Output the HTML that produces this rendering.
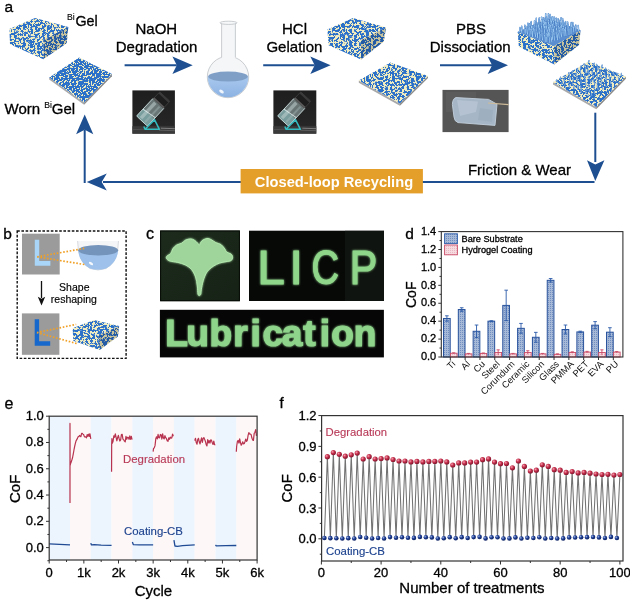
<!DOCTYPE html>
<html><head><meta charset="utf-8"><style>
html,body{margin:0;padding:0;background:#fff;}
svg{display:block;}
</style></head><body>
<svg width="630" height="604" viewBox="0 0 630 604" font-family='"Liberation Sans", Arial, sans-serif'>
<rect width="630" height="604" fill="#fff"/>

<defs>
 <filter id="gelA" x="0" y="0" width="1" height="1" color-interpolation-filters="sRGB">
  <feTurbulence type="fractalNoise" baseFrequency="0.42 0.5" numOctaves="2" seed="4" result="n"/>
  <feColorMatrix in="n" type="matrix" values="1 0 0 0 0  1 0 0 0 0  1 0 0 0 0  0 0 0 0 1"/>
  <feComponentTransfer>
   <feFuncR type="linear" slope="30" intercept="-14.910"/>
   <feFuncG type="linear" slope="30" intercept="-14.910"/>
   <feFuncB type="linear" slope="30" intercept="-14.910"/>
  </feComponentTransfer>
  <feComponentTransfer>
   <feFuncR type="linear" slope="0.78" intercept="0.17"/>
   <feFuncG type="linear" slope="0.49" intercept="0.44"/>
   <feFuncB type="linear" slope="-0.03" intercept="0.79"/>
  </feComponentTransfer>
  <feComposite in2="SourceGraphic" operator="in"/>
 </filter>
 <filter id="gelW" x="0" y="0" width="1" height="1" color-interpolation-filters="sRGB">
  <feTurbulence type="fractalNoise" baseFrequency="0.6" numOctaves="2" seed="9" result="n"/>
  <feColorMatrix in="n" type="matrix" values="1 0 0 0 0  1 0 0 0 0  1 0 0 0 0  0 0 0 0 1"/>
  <feComponentTransfer>
   <feFuncR type="linear" slope="30" intercept="-16.650"/>
   <feFuncG type="linear" slope="30" intercept="-16.650"/>
   <feFuncB type="linear" slope="30" intercept="-16.650"/>
  </feComponentTransfer>
  <feComponentTransfer>
   <feFuncR type="linear" slope="0.78" intercept="0.17"/>
   <feFuncG type="linear" slope="0.49" intercept="0.44"/>
   <feFuncB type="linear" slope="-0.03" intercept="0.79"/>
  </feComponentTransfer>
  <feComposite in2="SourceGraphic" operator="in"/>
 </filter>
 <filter id="glow" x="-20%" y="-20%" width="140%" height="140%">
  <feGaussianBlur stdDeviation="1.2" result="b"/>
  <feMerge><feMergeNode in="b"/><feMergeNode in="SourceGraphic"/></feMerge>
 </filter>
 <filter id="soft" x="-20%" y="-20%" width="140%" height="140%"><feGaussianBlur stdDeviation="0.6"/></filter>
 <pattern id="hatchB" width="2" height="2" patternUnits="userSpaceOnUse">
  <rect width="2" height="2" fill="#a6b9d6"/><rect width="1" height="1" fill="#728dbf"/>
 </pattern>
 <pattern id="hatchP" width="2" height="2" patternUnits="userSpaceOnUse">
  <rect width="2" height="2" fill="#f6dbe1"/><rect width="1" height="1" fill="#e9b7c3"/>
 </pattern>
 <radialGradient id="redDot" cx="0.35" cy="0.35" r="0.7">
  <stop offset="0" stop-color="#f4a0b0"/><stop offset="0.45" stop-color="#c8324f"/><stop offset="1" stop-color="#7a1028"/>
 </radialGradient>
 <radialGradient id="blueDot" cx="0.35" cy="0.35" r="0.7">
  <stop offset="0" stop-color="#9fb4e4"/><stop offset="0.45" stop-color="#1f3f96"/><stop offset="1" stop-color="#0c1f5a"/>
 </radialGradient>
 <linearGradient id="zig" x1="0" y1="0" x2="0" y2="1">
  <stop offset="0" stop-color="#555"/><stop offset="0.5" stop-color="#9a9a9a"/><stop offset="1" stop-color="#555"/>
 </linearGradient>
 <linearGradient id="liq" x1="0" y1="0" x2="0" y2="1">
  <stop offset="0" stop-color="#a9c8ee"/><stop offset="1" stop-color="#86aee0"/>
 </linearGradient>
 <linearGradient id="photoDark" x1="0" y1="0" x2="0" y2="1">
  <stop offset="0" stop-color="#1e1e1e"/><stop offset="0.8" stop-color="#262626"/><stop offset="1" stop-color="#4a4a4a"/>
 </linearGradient>
 <linearGradient id="leafBg" x1="0" y1="0" x2="1" y2="1">
  <stop offset="0" stop-color="#1d2b1d"/><stop offset="1" stop-color="#152215"/>
 </linearGradient>
</defs>
<g id="panelA" font-family='"Liberation Sans", Arial, sans-serif'><text x="4.5" y="11.9" font-size="15.5" text-anchor="start" font-weight="normal" fill="#000" stroke="#000" stroke-width="0.3" >a</text><polygon points="9.4,29.0 43.5,39.5 43.3,59.2 10.0,44.2" fill="#000" filter="url(#gelA)"/><polygon points="43.5,39.5 68.3,27.0 66.7,43.3 43.3,59.2" fill="#000" filter="url(#gelA)"/><polygon points="43.5,39.5 68.3,27.0 66.7,43.3 43.3,59.2" fill="#000" opacity="0.18"/><polygon points="9.4,29.0 35.0,18.0 68.3,27.0 43.5,39.5" fill="#000" filter="url(#gelA)"/><polygon points="49.2,77.4 84.1,102.5 84.1,104.7 49.2,79.6" fill="#a9a9a9"/><polygon points="84.1,102.5 111.9,74.0 111.9,76.2 84.1,104.7" fill="#8a8a8a"/><polygon points="49.2,77.4 79.1,57.6 111.9,74.0 84.1,102.5" fill="#000" filter="url(#gelW)"/><polygon points="327.4,29.5 361.0,39.5 361.0,59.5 328.6,45.2" fill="#000" filter="url(#gelA)"/><polygon points="361.0,39.5 386.0,27.5 383.8,41.6 361.0,59.5" fill="#000" filter="url(#gelA)"/><polygon points="361.0,39.5 386.0,27.5 383.8,41.6 361.0,59.5" fill="#000" opacity="0.18"/><polygon points="327.4,29.5 353.0,18.0 386.0,27.5 361.0,39.5" fill="#000" filter="url(#gelA)"/><polygon points="358.8,80.6 399.9,103.6 399.9,105.8 358.8,82.8" fill="#a9a9a9"/><polygon points="399.9,103.6 428.0,75.9 428.0,78.1 399.9,105.8" fill="#8a8a8a"/><polygon points="358.8,80.6 390.5,62.4 428.0,75.9 399.9,103.6" fill="#000" filter="url(#gelA)"/><polygon points="517.6,32.1 554.0,46.0 554.4,64.5 518.9,46.7" fill="#000" filter="url(#gelA)"/><polygon points="554.0,46.0 580.5,30.2 579.2,44.8 554.4,64.5" fill="#000" filter="url(#gelA)"/><polygon points="554.0,46.0 580.5,30.2 579.2,44.8 554.4,64.5" fill="#000" opacity="0.18"/><polygon points="517.6,32.1 548.0,18.5 580.5,30.2 554.0,46.0" fill="#000" filter="url(#gelA)"/><polygon points="517.6,32.1 548.0,18.5 580.5,30.2 554.0,46.0" fill="#5a8ed0"/><g><path d="M548.4,19.5 L548.4,13.8" stroke="#356cb8" stroke-width="1.45" stroke-linecap="round"/><path d="M548.4,19.5 L548.4,13.8" stroke="#9ccaf2" stroke-width="1.00" stroke-linecap="round"/><path d="M545.5,19.9 L545.7,13.7" stroke="#356cb8" stroke-width="1.45" stroke-linecap="round"/><path d="M545.5,19.9 L545.7,13.7" stroke="#9ccaf2" stroke-width="1.00" stroke-linecap="round"/><path d="M550.5,20.8 L550.1,14.5" stroke="#356cb8" stroke-width="1.45" stroke-linecap="round"/><path d="M550.5,20.8 L550.1,14.5" stroke="#9ccaf2" stroke-width="1.00" stroke-linecap="round"/><path d="M552.8,21.2 L552.2,16.7" stroke="#356cb8" stroke-width="1.45" stroke-linecap="round"/><path d="M552.8,21.2 L552.2,16.7" stroke="#9ccaf2" stroke-width="1.00" stroke-linecap="round"/><path d="M548.2,21.4 L548.9,16.2" stroke="#356cb8" stroke-width="1.45" stroke-linecap="round"/><path d="M548.2,21.4 L548.9,16.2" stroke="#9ccaf2" stroke-width="1.00" stroke-linecap="round"/><path d="M543.1,22.1 L543.5,17.8" stroke="#356cb8" stroke-width="1.45" stroke-linecap="round"/><path d="M543.1,22.1 L543.5,17.8" stroke="#9ccaf2" stroke-width="1.00" stroke-linecap="round"/><path d="M551.3,22.4 L551.3,17.9" stroke="#356cb8" stroke-width="1.45" stroke-linecap="round"/><path d="M551.3,22.4 L551.3,17.9" stroke="#9ccaf2" stroke-width="1.00" stroke-linecap="round"/><path d="M545.7,22.5 L546.5,16.8" stroke="#356cb8" stroke-width="1.45" stroke-linecap="round"/><path d="M545.7,22.5 L546.5,16.8" stroke="#9ccaf2" stroke-width="1.00" stroke-linecap="round"/><path d="M556.2,22.5 L556.1,18.1" stroke="#356cb8" stroke-width="1.45" stroke-linecap="round"/><path d="M556.2,22.5 L556.1,18.1" stroke="#9ccaf2" stroke-width="1.00" stroke-linecap="round"/><path d="M541.6,22.9 L541.6,17.2" stroke="#356cb8" stroke-width="1.45" stroke-linecap="round"/><path d="M541.6,22.9 L541.6,17.2" stroke="#9ccaf2" stroke-width="1.00" stroke-linecap="round"/><path d="M553.6,23.0 L554.1,17.0" stroke="#356cb8" stroke-width="1.45" stroke-linecap="round"/><path d="M553.6,23.0 L554.1,17.0" stroke="#9ccaf2" stroke-width="1.00" stroke-linecap="round"/><path d="M558.4,23.1 L558.1,18.7" stroke="#356cb8" stroke-width="1.45" stroke-linecap="round"/><path d="M558.4,23.1 L558.1,18.7" stroke="#9ccaf2" stroke-width="1.00" stroke-linecap="round"/><path d="M543.6,23.2 L544.0,18.5" stroke="#356cb8" stroke-width="1.45" stroke-linecap="round"/><path d="M543.6,23.2 L544.0,18.5" stroke="#9ccaf2" stroke-width="1.00" stroke-linecap="round"/><path d="M548.0,23.3 L547.9,18.5" stroke="#356cb8" stroke-width="1.45" stroke-linecap="round"/><path d="M548.0,23.3 L547.9,18.5" stroke="#9ccaf2" stroke-width="1.00" stroke-linecap="round"/><path d="M538.5,23.4 L539.3,18.0" stroke="#356cb8" stroke-width="1.45" stroke-linecap="round"/><path d="M538.5,23.4 L539.3,18.0" stroke="#9ccaf2" stroke-width="1.00" stroke-linecap="round"/><path d="M560.3,23.5 L561.1,17.7" stroke="#356cb8" stroke-width="1.45" stroke-linecap="round"/><path d="M560.3,23.5 L561.1,17.7" stroke="#9ccaf2" stroke-width="1.00" stroke-linecap="round"/><path d="M545.6,23.9 L546.2,17.9" stroke="#356cb8" stroke-width="1.45" stroke-linecap="round"/><path d="M545.6,23.9 L546.2,17.9" stroke="#9ccaf2" stroke-width="1.00" stroke-linecap="round"/><path d="M536.1,24.1 L536.3,18.2" stroke="#356cb8" stroke-width="1.45" stroke-linecap="round"/><path d="M536.1,24.1 L536.3,18.2" stroke="#9ccaf2" stroke-width="1.00" stroke-linecap="round"/><path d="M555.8,24.3 L555.5,18.9" stroke="#356cb8" stroke-width="1.45" stroke-linecap="round"/><path d="M555.8,24.3 L555.5,18.9" stroke="#9ccaf2" stroke-width="1.00" stroke-linecap="round"/><path d="M558.6,24.4 L559.0,20.1" stroke="#356cb8" stroke-width="1.45" stroke-linecap="round"/><path d="M558.6,24.4 L559.0,20.1" stroke="#9ccaf2" stroke-width="1.00" stroke-linecap="round"/><path d="M541.8,24.6 L542.3,19.8" stroke="#356cb8" stroke-width="1.45" stroke-linecap="round"/><path d="M541.8,24.6 L542.3,19.8" stroke="#9ccaf2" stroke-width="1.00" stroke-linecap="round"/><path d="M563.2,24.6 L562.6,18.6" stroke="#356cb8" stroke-width="1.45" stroke-linecap="round"/><path d="M563.2,24.6 L562.6,18.6" stroke="#9ccaf2" stroke-width="1.00" stroke-linecap="round"/><path d="M548.4,24.7 L548.4,20.0" stroke="#356cb8" stroke-width="1.45" stroke-linecap="round"/><path d="M548.4,24.7 L548.4,20.0" stroke="#9ccaf2" stroke-width="1.00" stroke-linecap="round"/><path d="M550.6,24.8 L550.8,18.5" stroke="#356cb8" stroke-width="1.45" stroke-linecap="round"/><path d="M550.6,24.8 L550.8,18.5" stroke="#9ccaf2" stroke-width="1.00" stroke-linecap="round"/><path d="M543.7,25.3 L543.7,20.1" stroke="#356cb8" stroke-width="1.45" stroke-linecap="round"/><path d="M543.7,25.3 L543.7,20.1" stroke="#9ccaf2" stroke-width="1.00" stroke-linecap="round"/><path d="M539.0,25.3 L538.9,19.5" stroke="#356cb8" stroke-width="1.45" stroke-linecap="round"/><path d="M539.0,25.3 L538.9,19.5" stroke="#9ccaf2" stroke-width="1.00" stroke-linecap="round"/><path d="M553.4,25.6 L553.6,21.0" stroke="#356cb8" stroke-width="1.45" stroke-linecap="round"/><path d="M553.4,25.6 L553.6,21.0" stroke="#9ccaf2" stroke-width="1.00" stroke-linecap="round"/><path d="M534.5,25.6 L534.5,20.9" stroke="#356cb8" stroke-width="1.45" stroke-linecap="round"/><path d="M534.5,25.6 L534.5,20.9" stroke="#9ccaf2" stroke-width="1.00" stroke-linecap="round"/><path d="M551.2,26.0 L551.6,20.7" stroke="#356cb8" stroke-width="1.45" stroke-linecap="round"/><path d="M551.2,26.0 L551.6,20.7" stroke="#9ccaf2" stroke-width="1.00" stroke-linecap="round"/><path d="M565.4,26.0 L565.7,21.6" stroke="#356cb8" stroke-width="1.45" stroke-linecap="round"/><path d="M565.4,26.0 L565.7,21.6" stroke="#9ccaf2" stroke-width="1.00" stroke-linecap="round"/><path d="M541.3,26.1 L541.5,20.4" stroke="#356cb8" stroke-width="1.45" stroke-linecap="round"/><path d="M541.3,26.1 L541.5,20.4" stroke="#9ccaf2" stroke-width="1.00" stroke-linecap="round"/><path d="M560.7,26.2 L560.4,21.0" stroke="#356cb8" stroke-width="1.45" stroke-linecap="round"/><path d="M560.7,26.2 L560.4,21.0" stroke="#9ccaf2" stroke-width="1.00" stroke-linecap="round"/><path d="M556.1,26.5 L555.5,21.7" stroke="#356cb8" stroke-width="1.45" stroke-linecap="round"/><path d="M556.1,26.5 L555.5,21.7" stroke="#9ccaf2" stroke-width="1.00" stroke-linecap="round"/><path d="M536.2,26.6 L536.0,22.3" stroke="#356cb8" stroke-width="1.45" stroke-linecap="round"/><path d="M536.2,26.6 L536.0,22.3" stroke="#9ccaf2" stroke-width="1.00" stroke-linecap="round"/><path d="M562.7,26.8 L563.0,21.3" stroke="#356cb8" stroke-width="1.45" stroke-linecap="round"/><path d="M562.7,26.8 L563.0,21.3" stroke="#9ccaf2" stroke-width="1.00" stroke-linecap="round"/><path d="M546.0,26.9 L546.7,22.3" stroke="#356cb8" stroke-width="1.45" stroke-linecap="round"/><path d="M546.0,26.9 L546.7,22.3" stroke="#9ccaf2" stroke-width="1.00" stroke-linecap="round"/><path d="M531.3,27.1 L531.2,21.6" stroke="#356cb8" stroke-width="1.45" stroke-linecap="round"/><path d="M531.3,27.1 L531.2,21.6" stroke="#9ccaf2" stroke-width="1.00" stroke-linecap="round"/><path d="M553.3,27.1 L553.1,23.0" stroke="#356cb8" stroke-width="1.45" stroke-linecap="round"/><path d="M553.3,27.1 L553.1,23.0" stroke="#9ccaf2" stroke-width="1.00" stroke-linecap="round"/><path d="M567.5,27.2 L567.7,22.1" stroke="#356cb8" stroke-width="1.45" stroke-linecap="round"/><path d="M567.5,27.2 L567.7,22.1" stroke="#9ccaf2" stroke-width="1.00" stroke-linecap="round"/><path d="M544.3,27.3 L544.7,21.6" stroke="#356cb8" stroke-width="1.45" stroke-linecap="round"/><path d="M544.3,27.3 L544.7,21.6" stroke="#9ccaf2" stroke-width="1.00" stroke-linecap="round"/><path d="M558.3,27.4 L557.9,23.2" stroke="#356cb8" stroke-width="1.45" stroke-linecap="round"/><path d="M558.3,27.4 L557.9,23.2" stroke="#9ccaf2" stroke-width="1.00" stroke-linecap="round"/><path d="M548.4,27.6 L548.6,22.3" stroke="#356cb8" stroke-width="1.45" stroke-linecap="round"/><path d="M548.4,27.6 L548.6,22.3" stroke="#9ccaf2" stroke-width="1.00" stroke-linecap="round"/><path d="M539.4,27.6 L538.8,23.3" stroke="#356cb8" stroke-width="1.45" stroke-linecap="round"/><path d="M539.4,27.6 L538.8,23.3" stroke="#9ccaf2" stroke-width="1.00" stroke-linecap="round"/><path d="M556.5,27.7 L556.7,22.8" stroke="#356cb8" stroke-width="1.45" stroke-linecap="round"/><path d="M556.5,27.7 L556.7,22.8" stroke="#9ccaf2" stroke-width="1.00" stroke-linecap="round"/><path d="M570.6,27.8 L571.2,22.5" stroke="#356cb8" stroke-width="1.45" stroke-linecap="round"/><path d="M570.6,27.8 L571.2,22.5" stroke="#9ccaf2" stroke-width="1.00" stroke-linecap="round"/><path d="M560.8,27.8 L561.0,23.0" stroke="#356cb8" stroke-width="1.45" stroke-linecap="round"/><path d="M560.8,27.8 L561.0,23.0" stroke="#9ccaf2" stroke-width="1.00" stroke-linecap="round"/><path d="M534.0,27.9 L534.7,23.4" stroke="#356cb8" stroke-width="1.45" stroke-linecap="round"/><path d="M534.0,27.9 L534.7,23.4" stroke="#9ccaf2" stroke-width="1.00" stroke-linecap="round"/><path d="M572.9,28.0 L572.8,22.4" stroke="#356cb8" stroke-width="1.45" stroke-linecap="round"/><path d="M572.9,28.0 L572.8,22.4" stroke="#9ccaf2" stroke-width="1.00" stroke-linecap="round"/><path d="M529.2,28.0 L529.6,23.7" stroke="#356cb8" stroke-width="1.45" stroke-linecap="round"/><path d="M529.2,28.0 L529.6,23.7" stroke="#9ccaf2" stroke-width="1.00" stroke-linecap="round"/><path d="M565.5,28.2 L564.8,22.4" stroke="#356cb8" stroke-width="1.45" stroke-linecap="round"/><path d="M565.5,28.2 L564.8,22.4" stroke="#9ccaf2" stroke-width="1.00" stroke-linecap="round"/><path d="M536.7,28.2 L537.2,23.1" stroke="#356cb8" stroke-width="1.45" stroke-linecap="round"/><path d="M536.7,28.2 L537.2,23.1" stroke="#9ccaf2" stroke-width="1.00" stroke-linecap="round"/><path d="M541.4,28.3 L541.1,23.2" stroke="#356cb8" stroke-width="1.45" stroke-linecap="round"/><path d="M541.4,28.3 L541.1,23.2" stroke="#9ccaf2" stroke-width="1.00" stroke-linecap="round"/><path d="M527.3,28.4 L527.9,23.3" stroke="#356cb8" stroke-width="1.45" stroke-linecap="round"/><path d="M527.3,28.4 L527.9,23.3" stroke="#9ccaf2" stroke-width="1.00" stroke-linecap="round"/><path d="M567.8,28.5 L567.6,24.0" stroke="#356cb8" stroke-width="1.45" stroke-linecap="round"/><path d="M567.8,28.5 L567.6,24.0" stroke="#9ccaf2" stroke-width="1.00" stroke-linecap="round"/><path d="M546.4,28.6 L545.6,22.4" stroke="#356cb8" stroke-width="1.45" stroke-linecap="round"/><path d="M546.4,28.6 L545.6,22.4" stroke="#9ccaf2" stroke-width="1.00" stroke-linecap="round"/><path d="M531.5,28.7 L530.8,22.8" stroke="#356cb8" stroke-width="1.45" stroke-linecap="round"/><path d="M531.5,28.7 L530.8,22.8" stroke="#9ccaf2" stroke-width="1.00" stroke-linecap="round"/><path d="M550.9,28.7 L551.0,23.3" stroke="#356cb8" stroke-width="1.45" stroke-linecap="round"/><path d="M550.9,28.7 L551.0,23.3" stroke="#9ccaf2" stroke-width="1.00" stroke-linecap="round"/><path d="M544.0,28.8 L543.6,24.3" stroke="#356cb8" stroke-width="1.45" stroke-linecap="round"/><path d="M544.0,28.8 L543.6,24.3" stroke="#9ccaf2" stroke-width="1.00" stroke-linecap="round"/><path d="M558.1,28.8 L558.0,22.6" stroke="#356cb8" stroke-width="1.45" stroke-linecap="round"/><path d="M558.1,28.8 L558.0,22.6" stroke="#9ccaf2" stroke-width="1.00" stroke-linecap="round"/><path d="M553.1,29.1 L552.6,24.4" stroke="#356cb8" stroke-width="1.45" stroke-linecap="round"/><path d="M553.1,29.1 L552.6,24.4" stroke="#9ccaf2" stroke-width="1.00" stroke-linecap="round"/><path d="M571.1,29.1 L571.8,23.2" stroke="#356cb8" stroke-width="1.45" stroke-linecap="round"/><path d="M571.1,29.1 L571.8,23.2" stroke="#9ccaf2" stroke-width="1.00" stroke-linecap="round"/><path d="M563.9,29.1 L564.0,24.9" stroke="#356cb8" stroke-width="1.45" stroke-linecap="round"/><path d="M563.9,29.1 L564.0,24.9" stroke="#9ccaf2" stroke-width="1.00" stroke-linecap="round"/><path d="M539.1,29.2 L538.4,24.3" stroke="#356cb8" stroke-width="1.45" stroke-linecap="round"/><path d="M539.1,29.2 L538.4,24.3" stroke="#9ccaf2" stroke-width="1.00" stroke-linecap="round"/><path d="M575.1,29.4 L575.8,25.1" stroke="#356cb8" stroke-width="1.45" stroke-linecap="round"/><path d="M575.1,29.4 L575.8,25.1" stroke="#9ccaf2" stroke-width="1.00" stroke-linecap="round"/><path d="M549.4,29.6 L549.8,24.4" stroke="#356cb8" stroke-width="1.45" stroke-linecap="round"/><path d="M549.4,29.6 L549.8,24.4" stroke="#9ccaf2" stroke-width="1.00" stroke-linecap="round"/><path d="M529.3,29.7 L529.1,24.1" stroke="#356cb8" stroke-width="1.45" stroke-linecap="round"/><path d="M529.3,29.7 L529.1,24.1" stroke="#9ccaf2" stroke-width="1.00" stroke-linecap="round"/><path d="M524.8,29.8 L524.8,25.3" stroke="#356cb8" stroke-width="1.45" stroke-linecap="round"/><path d="M524.8,29.8 L524.8,25.3" stroke="#9ccaf2" stroke-width="1.00" stroke-linecap="round"/><path d="M556.8,29.9 L556.7,24.7" stroke="#356cb8" stroke-width="1.45" stroke-linecap="round"/><path d="M556.8,29.9 L556.7,24.7" stroke="#9ccaf2" stroke-width="1.00" stroke-linecap="round"/><path d="M550.9,29.9 L550.4,25.4" stroke="#356cb8" stroke-width="1.45" stroke-linecap="round"/><path d="M550.9,29.9 L550.4,25.4" stroke="#9ccaf2" stroke-width="1.00" stroke-linecap="round"/><path d="M565.5,29.9 L564.9,23.9" stroke="#356cb8" stroke-width="1.45" stroke-linecap="round"/><path d="M565.5,29.9 L564.9,23.9" stroke="#9ccaf2" stroke-width="1.00" stroke-linecap="round"/><path d="M534.3,30.1 L534.2,25.1" stroke="#356cb8" stroke-width="1.45" stroke-linecap="round"/><path d="M534.3,30.1 L534.2,25.1" stroke="#9ccaf2" stroke-width="1.00" stroke-linecap="round"/><path d="M541.8,30.2 L541.5,25.6" stroke="#356cb8" stroke-width="1.45" stroke-linecap="round"/><path d="M541.8,30.2 L541.5,25.6" stroke="#9ccaf2" stroke-width="1.00" stroke-linecap="round"/><path d="M560.6,30.2 L560.5,26.1" stroke="#356cb8" stroke-width="1.45" stroke-linecap="round"/><path d="M560.6,30.2 L560.5,26.1" stroke="#9ccaf2" stroke-width="1.00" stroke-linecap="round"/><path d="M563.6,30.4 L563.4,25.9" stroke="#356cb8" stroke-width="1.45" stroke-linecap="round"/><path d="M563.6,30.4 L563.4,25.9" stroke="#9ccaf2" stroke-width="1.00" stroke-linecap="round"/><path d="M546.2,30.5 L545.5,26.4" stroke="#356cb8" stroke-width="1.45" stroke-linecap="round"/><path d="M546.2,30.5 L545.5,26.4" stroke="#9ccaf2" stroke-width="1.00" stroke-linecap="round"/><path d="M548.5,30.6 L548.1,25.1" stroke="#356cb8" stroke-width="1.45" stroke-linecap="round"/><path d="M548.5,30.6 L548.1,25.1" stroke="#9ccaf2" stroke-width="1.00" stroke-linecap="round"/><path d="M578.6,30.7 L578.2,25.5" stroke="#356cb8" stroke-width="1.45" stroke-linecap="round"/><path d="M578.6,30.7 L578.2,25.5" stroke="#9ccaf2" stroke-width="1.00" stroke-linecap="round"/><path d="M527.8,30.9 L528.1,26.6" stroke="#356cb8" stroke-width="1.45" stroke-linecap="round"/><path d="M527.8,30.9 L528.1,26.6" stroke="#9ccaf2" stroke-width="1.00" stroke-linecap="round"/><path d="M573.4,30.9 L573.8,26.1" stroke="#356cb8" stroke-width="1.45" stroke-linecap="round"/><path d="M573.4,30.9 L573.8,26.1" stroke="#9ccaf2" stroke-width="1.00" stroke-linecap="round"/><path d="M536.6,30.9 L536.9,25.5" stroke="#356cb8" stroke-width="1.45" stroke-linecap="round"/><path d="M536.6,30.9 L536.9,25.5" stroke="#9ccaf2" stroke-width="1.00" stroke-linecap="round"/><path d="M568.0,31.0 L568.1,25.1" stroke="#356cb8" stroke-width="1.45" stroke-linecap="round"/><path d="M568.0,31.0 L568.1,25.1" stroke="#9ccaf2" stroke-width="1.00" stroke-linecap="round"/><path d="M575.9,31.1 L575.7,26.3" stroke="#356cb8" stroke-width="1.45" stroke-linecap="round"/><path d="M575.9,31.1 L575.7,26.3" stroke="#9ccaf2" stroke-width="1.00" stroke-linecap="round"/><path d="M558.6,31.2 L558.5,26.2" stroke="#356cb8" stroke-width="1.45" stroke-linecap="round"/><path d="M558.6,31.2 L558.5,26.2" stroke="#9ccaf2" stroke-width="1.00" stroke-linecap="round"/><path d="M532.4,31.2 L532.8,26.5" stroke="#356cb8" stroke-width="1.45" stroke-linecap="round"/><path d="M532.4,31.2 L532.8,26.5" stroke="#9ccaf2" stroke-width="1.00" stroke-linecap="round"/><path d="M561.0,31.2 L561.5,24.9" stroke="#356cb8" stroke-width="1.45" stroke-linecap="round"/><path d="M561.0,31.2 L561.5,24.9" stroke="#9ccaf2" stroke-width="1.00" stroke-linecap="round"/><path d="M522.1,31.2 L521.7,26.2" stroke="#356cb8" stroke-width="1.45" stroke-linecap="round"/><path d="M522.1,31.2 L521.7,26.2" stroke="#9ccaf2" stroke-width="1.00" stroke-linecap="round"/><path d="M553.6,31.2 L554.4,26.3" stroke="#356cb8" stroke-width="1.45" stroke-linecap="round"/><path d="M553.6,31.2 L554.4,26.3" stroke="#9ccaf2" stroke-width="1.00" stroke-linecap="round"/><path d="M529.8,31.3 L529.7,27.1" stroke="#356cb8" stroke-width="1.45" stroke-linecap="round"/><path d="M529.8,31.3 L529.7,27.1" stroke="#9ccaf2" stroke-width="1.00" stroke-linecap="round"/><path d="M534.0,31.4 L533.9,26.7" stroke="#356cb8" stroke-width="1.45" stroke-linecap="round"/><path d="M534.0,31.4 L533.9,26.7" stroke="#9ccaf2" stroke-width="1.00" stroke-linecap="round"/><path d="M539.2,31.5 L538.5,25.3" stroke="#356cb8" stroke-width="1.45" stroke-linecap="round"/><path d="M539.2,31.5 L538.5,25.3" stroke="#9ccaf2" stroke-width="1.00" stroke-linecap="round"/><path d="M544.1,31.5 L544.6,26.2" stroke="#356cb8" stroke-width="1.45" stroke-linecap="round"/><path d="M544.1,31.5 L544.6,26.2" stroke="#9ccaf2" stroke-width="1.00" stroke-linecap="round"/><path d="M519.7,31.7 L520.0,27.4" stroke="#356cb8" stroke-width="1.45" stroke-linecap="round"/><path d="M519.7,31.7 L520.0,27.4" stroke="#9ccaf2" stroke-width="1.00" stroke-linecap="round"/><path d="M546.7,31.8 L546.6,25.8" stroke="#356cb8" stroke-width="1.45" stroke-linecap="round"/><path d="M546.7,31.8 L546.6,25.8" stroke="#9ccaf2" stroke-width="1.00" stroke-linecap="round"/><path d="M565.6,31.8 L565.7,26.9" stroke="#356cb8" stroke-width="1.45" stroke-linecap="round"/><path d="M565.6,31.8 L565.7,26.9" stroke="#9ccaf2" stroke-width="1.00" stroke-linecap="round"/><path d="M542.0,31.9 L541.4,25.9" stroke="#356cb8" stroke-width="1.45" stroke-linecap="round"/><path d="M542.0,31.9 L541.4,25.9" stroke="#9ccaf2" stroke-width="1.00" stroke-linecap="round"/><path d="M570.9,32.0 L570.7,27.7" stroke="#356cb8" stroke-width="1.45" stroke-linecap="round"/><path d="M570.9,32.0 L570.7,27.7" stroke="#9ccaf2" stroke-width="1.00" stroke-linecap="round"/><path d="M556.8,32.2 L556.7,27.2" stroke="#356cb8" stroke-width="1.45" stroke-linecap="round"/><path d="M556.8,32.2 L556.7,27.2" stroke="#9ccaf2" stroke-width="1.00" stroke-linecap="round"/><path d="M573.8,32.2 L573.5,27.0" stroke="#356cb8" stroke-width="1.45" stroke-linecap="round"/><path d="M573.8,32.2 L573.5,27.0" stroke="#9ccaf2" stroke-width="1.00" stroke-linecap="round"/><path d="M531.6,32.2 L531.5,26.4" stroke="#356cb8" stroke-width="1.45" stroke-linecap="round"/><path d="M531.6,32.2 L531.5,26.4" stroke="#9ccaf2" stroke-width="1.00" stroke-linecap="round"/><path d="M568.7,32.2 L568.7,27.6" stroke="#356cb8" stroke-width="1.45" stroke-linecap="round"/><path d="M568.7,32.2 L568.7,27.6" stroke="#9ccaf2" stroke-width="1.00" stroke-linecap="round"/><path d="M524.6,32.4 L524.7,27.0" stroke="#356cb8" stroke-width="1.45" stroke-linecap="round"/><path d="M524.6,32.4 L524.7,27.0" stroke="#9ccaf2" stroke-width="1.00" stroke-linecap="round"/><path d="M551.3,32.4 L551.0,27.1" stroke="#356cb8" stroke-width="1.45" stroke-linecap="round"/><path d="M551.3,32.4 L551.0,27.1" stroke="#9ccaf2" stroke-width="1.00" stroke-linecap="round"/><path d="M563.4,32.5 L563.4,28.0" stroke="#356cb8" stroke-width="1.45" stroke-linecap="round"/><path d="M563.4,32.5 L563.4,28.0" stroke="#9ccaf2" stroke-width="1.00" stroke-linecap="round"/><path d="M549.1,32.7 L548.4,26.9" stroke="#356cb8" stroke-width="1.45" stroke-linecap="round"/><path d="M549.1,32.7 L548.4,26.9" stroke="#9ccaf2" stroke-width="1.00" stroke-linecap="round"/><path d="M536.6,32.8 L536.6,28.1" stroke="#356cb8" stroke-width="1.45" stroke-linecap="round"/><path d="M536.6,32.8 L536.6,28.1" stroke="#9ccaf2" stroke-width="1.00" stroke-linecap="round"/><path d="M527.1,32.8 L526.8,27.1" stroke="#356cb8" stroke-width="1.45" stroke-linecap="round"/><path d="M527.1,32.8 L526.8,27.1" stroke="#9ccaf2" stroke-width="1.00" stroke-linecap="round"/><path d="M559.0,33.0 L559.2,27.3" stroke="#356cb8" stroke-width="1.45" stroke-linecap="round"/><path d="M559.0,33.0 L559.2,27.3" stroke="#9ccaf2" stroke-width="1.00" stroke-linecap="round"/><path d="M521.9,33.1 L521.2,28.5" stroke="#356cb8" stroke-width="1.45" stroke-linecap="round"/><path d="M521.9,33.1 L521.2,28.5" stroke="#9ccaf2" stroke-width="1.00" stroke-linecap="round"/><path d="M556.9,33.4 L556.4,28.3" stroke="#356cb8" stroke-width="1.45" stroke-linecap="round"/><path d="M556.9,33.4 L556.4,28.3" stroke="#9ccaf2" stroke-width="1.00" stroke-linecap="round"/><path d="M554.3,33.4 L553.7,28.6" stroke="#356cb8" stroke-width="1.45" stroke-linecap="round"/><path d="M554.3,33.4 L553.7,28.6" stroke="#9ccaf2" stroke-width="1.00" stroke-linecap="round"/><path d="M565.7,33.4 L565.4,27.3" stroke="#356cb8" stroke-width="1.45" stroke-linecap="round"/><path d="M565.7,33.4 L565.4,27.3" stroke="#9ccaf2" stroke-width="1.00" stroke-linecap="round"/><path d="M525.2,33.5 L525.3,29.3" stroke="#356cb8" stroke-width="1.45" stroke-linecap="round"/><path d="M525.2,33.5 L525.3,29.3" stroke="#9ccaf2" stroke-width="1.00" stroke-linecap="round"/><path d="M530.4,33.5 L530.8,28.9" stroke="#356cb8" stroke-width="1.45" stroke-linecap="round"/><path d="M530.4,33.5 L530.8,28.9" stroke="#9ccaf2" stroke-width="1.00" stroke-linecap="round"/><path d="M552.2,33.5 L552.8,29.1" stroke="#356cb8" stroke-width="1.45" stroke-linecap="round"/><path d="M552.2,33.5 L552.8,29.1" stroke="#9ccaf2" stroke-width="1.00" stroke-linecap="round"/><path d="M544.4,33.7 L544.4,28.8" stroke="#356cb8" stroke-width="1.45" stroke-linecap="round"/><path d="M544.4,33.7 L544.4,28.8" stroke="#9ccaf2" stroke-width="1.00" stroke-linecap="round"/><path d="M571.0,33.7 L571.2,28.0" stroke="#356cb8" stroke-width="1.45" stroke-linecap="round"/><path d="M571.0,33.7 L571.2,28.0" stroke="#9ccaf2" stroke-width="1.00" stroke-linecap="round"/><path d="M561.8,33.8 L562.3,28.5" stroke="#356cb8" stroke-width="1.45" stroke-linecap="round"/><path d="M561.8,33.8 L562.3,28.5" stroke="#9ccaf2" stroke-width="1.00" stroke-linecap="round"/><path d="M538.9,33.9 L539.4,28.2" stroke="#356cb8" stroke-width="1.45" stroke-linecap="round"/><path d="M538.9,33.9 L539.4,28.2" stroke="#9ccaf2" stroke-width="1.00" stroke-linecap="round"/><path d="M534.3,33.9 L533.5,28.0" stroke="#356cb8" stroke-width="1.45" stroke-linecap="round"/><path d="M534.3,33.9 L533.5,28.0" stroke="#9ccaf2" stroke-width="1.00" stroke-linecap="round"/><path d="M564.4,34.1 L564.4,29.2" stroke="#356cb8" stroke-width="1.45" stroke-linecap="round"/><path d="M564.4,34.1 L564.4,29.2" stroke="#9ccaf2" stroke-width="1.00" stroke-linecap="round"/><path d="M531.8,34.3 L531.7,29.2" stroke="#356cb8" stroke-width="1.45" stroke-linecap="round"/><path d="M531.8,34.3 L531.7,29.2" stroke="#9ccaf2" stroke-width="1.00" stroke-linecap="round"/><path d="M541.8,34.4 L541.8,28.5" stroke="#356cb8" stroke-width="1.45" stroke-linecap="round"/><path d="M541.8,34.4 L541.8,28.5" stroke="#9ccaf2" stroke-width="1.00" stroke-linecap="round"/><path d="M547.0,34.4 L547.2,29.1" stroke="#356cb8" stroke-width="1.45" stroke-linecap="round"/><path d="M547.0,34.4 L547.2,29.1" stroke="#9ccaf2" stroke-width="1.00" stroke-linecap="round"/><path d="M527.4,34.4 L528.2,28.5" stroke="#356cb8" stroke-width="1.45" stroke-linecap="round"/><path d="M527.4,34.4 L528.2,28.5" stroke="#9ccaf2" stroke-width="1.00" stroke-linecap="round"/><path d="M558.9,34.6 L558.8,30.1" stroke="#356cb8" stroke-width="1.45" stroke-linecap="round"/><path d="M558.9,34.6 L558.8,30.1" stroke="#9ccaf2" stroke-width="1.00" stroke-linecap="round"/><path d="M569.0,34.7 L569.0,28.8" stroke="#356cb8" stroke-width="1.45" stroke-linecap="round"/><path d="M569.0,34.7 L569.0,28.8" stroke="#9ccaf2" stroke-width="1.00" stroke-linecap="round"/><path d="M549.1,34.8 L549.5,28.8" stroke="#356cb8" stroke-width="1.45" stroke-linecap="round"/><path d="M549.1,34.8 L549.5,28.8" stroke="#9ccaf2" stroke-width="1.00" stroke-linecap="round"/><path d="M553.7,34.9 L553.5,29.0" stroke="#356cb8" stroke-width="1.45" stroke-linecap="round"/><path d="M553.7,34.9 L553.5,29.0" stroke="#9ccaf2" stroke-width="1.00" stroke-linecap="round"/><path d="M536.8,34.9 L536.0,29.1" stroke="#356cb8" stroke-width="1.45" stroke-linecap="round"/><path d="M536.8,34.9 L536.0,29.1" stroke="#9ccaf2" stroke-width="1.00" stroke-linecap="round"/><path d="M561.0,35.4 L561.0,29.2" stroke="#356cb8" stroke-width="1.45" stroke-linecap="round"/><path d="M561.0,35.4 L561.0,29.2" stroke="#9ccaf2" stroke-width="1.00" stroke-linecap="round"/><path d="M544.1,35.5 L544.3,30.7" stroke="#356cb8" stroke-width="1.45" stroke-linecap="round"/><path d="M544.1,35.5 L544.3,30.7" stroke="#9ccaf2" stroke-width="1.00" stroke-linecap="round"/><path d="M535.4,35.6 L534.8,29.5" stroke="#356cb8" stroke-width="1.45" stroke-linecap="round"/><path d="M535.4,35.6 L534.8,29.5" stroke="#9ccaf2" stroke-width="1.00" stroke-linecap="round"/><path d="M566.0,35.7 L565.5,29.6" stroke="#356cb8" stroke-width="1.45" stroke-linecap="round"/><path d="M566.0,35.7 L565.5,29.6" stroke="#9ccaf2" stroke-width="1.00" stroke-linecap="round"/><path d="M539.4,35.8 L539.8,31.2" stroke="#356cb8" stroke-width="1.45" stroke-linecap="round"/><path d="M539.4,35.8 L539.8,31.2" stroke="#9ccaf2" stroke-width="1.00" stroke-linecap="round"/><path d="M547.1,35.9 L547.4,29.9" stroke="#356cb8" stroke-width="1.45" stroke-linecap="round"/><path d="M547.1,35.9 L547.4,29.9" stroke="#9ccaf2" stroke-width="1.00" stroke-linecap="round"/><path d="M564.2,36.0 L563.9,31.7" stroke="#356cb8" stroke-width="1.45" stroke-linecap="round"/><path d="M564.2,36.0 L563.9,31.7" stroke="#9ccaf2" stroke-width="1.00" stroke-linecap="round"/><path d="M556.7,36.0 L557.0,30.7" stroke="#356cb8" stroke-width="1.45" stroke-linecap="round"/><path d="M556.7,36.0 L557.0,30.7" stroke="#9ccaf2" stroke-width="1.00" stroke-linecap="round"/><path d="M541.7,36.0 L541.0,30.1" stroke="#356cb8" stroke-width="1.45" stroke-linecap="round"/><path d="M541.7,36.0 L541.0,30.1" stroke="#9ccaf2" stroke-width="1.00" stroke-linecap="round"/><path d="M552.3,36.1 L551.9,31.1" stroke="#356cb8" stroke-width="1.45" stroke-linecap="round"/><path d="M552.3,36.1 L551.9,31.1" stroke="#9ccaf2" stroke-width="1.00" stroke-linecap="round"/><path d="M558.7,36.1 L559.4,30.4" stroke="#356cb8" stroke-width="1.45" stroke-linecap="round"/><path d="M558.7,36.1 L559.4,30.4" stroke="#9ccaf2" stroke-width="1.00" stroke-linecap="round"/><path d="M529.8,36.2 L530.2,30.8" stroke="#356cb8" stroke-width="1.45" stroke-linecap="round"/><path d="M529.8,36.2 L530.2,30.8" stroke="#9ccaf2" stroke-width="1.00" stroke-linecap="round"/><path d="M545.1,36.6 L544.5,30.5" stroke="#356cb8" stroke-width="1.45" stroke-linecap="round"/><path d="M545.1,36.6 L544.5,30.5" stroke="#9ccaf2" stroke-width="1.00" stroke-linecap="round"/><path d="M537.6,36.6 L537.1,31.9" stroke="#356cb8" stroke-width="1.45" stroke-linecap="round"/><path d="M537.6,36.6 L537.1,31.9" stroke="#9ccaf2" stroke-width="1.00" stroke-linecap="round"/><path d="M554.3,37.0 L555.0,32.5" stroke="#356cb8" stroke-width="1.45" stroke-linecap="round"/><path d="M554.3,37.0 L555.0,32.5" stroke="#9ccaf2" stroke-width="1.00" stroke-linecap="round"/><path d="M535.3,37.0 L536.1,32.3" stroke="#356cb8" stroke-width="1.45" stroke-linecap="round"/><path d="M535.3,37.0 L536.1,32.3" stroke="#9ccaf2" stroke-width="1.00" stroke-linecap="round"/><path d="M532.6,37.1 L532.3,31.1" stroke="#356cb8" stroke-width="1.45" stroke-linecap="round"/><path d="M532.6,37.1 L532.3,31.1" stroke="#9ccaf2" stroke-width="1.00" stroke-linecap="round"/><path d="M561.3,37.2 L562.0,32.2" stroke="#356cb8" stroke-width="1.45" stroke-linecap="round"/><path d="M561.3,37.2 L562.0,32.2" stroke="#9ccaf2" stroke-width="1.00" stroke-linecap="round"/><path d="M556.4,37.4 L557.0,31.7" stroke="#356cb8" stroke-width="1.45" stroke-linecap="round"/><path d="M556.4,37.4 L557.0,31.7" stroke="#9ccaf2" stroke-width="1.00" stroke-linecap="round"/><path d="M549.0,37.4 L548.3,32.4" stroke="#356cb8" stroke-width="1.45" stroke-linecap="round"/><path d="M549.0,37.4 L548.3,32.4" stroke="#9ccaf2" stroke-width="1.00" stroke-linecap="round"/><path d="M539.4,37.8 L539.7,31.6" stroke="#356cb8" stroke-width="1.45" stroke-linecap="round"/><path d="M539.4,37.8 L539.7,31.6" stroke="#9ccaf2" stroke-width="1.00" stroke-linecap="round"/><path d="M537.6,37.8 L537.4,32.8" stroke="#356cb8" stroke-width="1.45" stroke-linecap="round"/><path d="M537.6,37.8 L537.4,32.8" stroke="#9ccaf2" stroke-width="1.00" stroke-linecap="round"/><path d="M551.9,37.9 L552.6,32.6" stroke="#356cb8" stroke-width="1.45" stroke-linecap="round"/><path d="M551.9,37.9 L552.6,32.6" stroke="#9ccaf2" stroke-width="1.00" stroke-linecap="round"/><path d="M546.9,38.2 L546.6,33.4" stroke="#356cb8" stroke-width="1.45" stroke-linecap="round"/><path d="M546.9,38.2 L546.6,33.4" stroke="#9ccaf2" stroke-width="1.00" stroke-linecap="round"/><path d="M559.3,38.3 L558.7,33.5" stroke="#356cb8" stroke-width="1.45" stroke-linecap="round"/><path d="M559.3,38.3 L558.7,33.5" stroke="#9ccaf2" stroke-width="1.00" stroke-linecap="round"/><path d="M542.4,38.5 L542.0,32.8" stroke="#356cb8" stroke-width="1.45" stroke-linecap="round"/><path d="M542.4,38.5 L542.0,32.8" stroke="#9ccaf2" stroke-width="1.00" stroke-linecap="round"/><path d="M549.6,39.0 L549.8,33.2" stroke="#356cb8" stroke-width="1.45" stroke-linecap="round"/><path d="M549.6,39.0 L549.8,33.2" stroke="#9ccaf2" stroke-width="1.00" stroke-linecap="round"/><path d="M554.5,39.1 L553.8,32.9" stroke="#356cb8" stroke-width="1.45" stroke-linecap="round"/><path d="M554.5,39.1 L553.8,32.9" stroke="#9ccaf2" stroke-width="1.00" stroke-linecap="round"/><path d="M545.0,39.4 L544.4,35.2" stroke="#356cb8" stroke-width="1.45" stroke-linecap="round"/><path d="M545.0,39.4 L544.4,35.2" stroke="#9ccaf2" stroke-width="1.00" stroke-linecap="round"/><path d="M539.8,39.5 L540.1,34.4" stroke="#356cb8" stroke-width="1.45" stroke-linecap="round"/><path d="M539.8,39.5 L540.1,34.4" stroke="#9ccaf2" stroke-width="1.00" stroke-linecap="round"/><path d="M552.6,39.9 L552.1,34.0" stroke="#356cb8" stroke-width="1.45" stroke-linecap="round"/><path d="M552.6,39.9 L552.1,34.0" stroke="#9ccaf2" stroke-width="1.00" stroke-linecap="round"/><path d="M547.1,40.0 L547.4,33.8" stroke="#356cb8" stroke-width="1.45" stroke-linecap="round"/><path d="M547.1,40.0 L547.4,33.8" stroke="#9ccaf2" stroke-width="1.00" stroke-linecap="round"/><path d="M557.5,40.0 L557.3,34.6" stroke="#356cb8" stroke-width="1.45" stroke-linecap="round"/><path d="M557.5,40.0 L557.3,34.6" stroke="#9ccaf2" stroke-width="1.00" stroke-linecap="round"/><path d="M542.6,40.1 L541.9,34.9" stroke="#356cb8" stroke-width="1.45" stroke-linecap="round"/><path d="M542.6,40.1 L541.9,34.9" stroke="#9ccaf2" stroke-width="1.00" stroke-linecap="round"/><path d="M554.4,40.3 L554.2,35.9" stroke="#356cb8" stroke-width="1.45" stroke-linecap="round"/><path d="M554.4,40.3 L554.2,35.9" stroke="#9ccaf2" stroke-width="1.00" stroke-linecap="round"/><path d="M549.5,41.5 L550.1,36.6" stroke="#356cb8" stroke-width="1.45" stroke-linecap="round"/><path d="M549.5,41.5 L550.1,36.6" stroke="#9ccaf2" stroke-width="1.00" stroke-linecap="round"/><path d="M545.2,41.6 L545.2,36.9" stroke="#356cb8" stroke-width="1.45" stroke-linecap="round"/><path d="M545.2,41.6 L545.2,36.9" stroke="#9ccaf2" stroke-width="1.00" stroke-linecap="round"/><path d="M546.9,41.7 L546.7,37.2" stroke="#356cb8" stroke-width="1.45" stroke-linecap="round"/><path d="M546.9,41.7 L546.7,37.2" stroke="#9ccaf2" stroke-width="1.00" stroke-linecap="round"/><path d="M551.9,42.2 L551.2,37.4" stroke="#356cb8" stroke-width="1.45" stroke-linecap="round"/><path d="M551.9,42.2 L551.2,37.4" stroke="#9ccaf2" stroke-width="1.00" stroke-linecap="round"/><path d="M549.8,42.8 L549.7,37.6" stroke="#356cb8" stroke-width="1.45" stroke-linecap="round"/><path d="M549.8,42.8 L549.7,37.6" stroke="#9ccaf2" stroke-width="1.00" stroke-linecap="round"/></g><polygon points="553.0,82.3 596.2,107.1 596.2,109.3 553.0,84.5" fill="#a9a9a9"/><polygon points="596.2,107.1 625.9,76.5 625.9,78.7 596.2,109.3" fill="#8a8a8a"/><polygon points="553.0,82.3 588.4,61.5 625.9,76.5 596.2,107.1" fill="#000" filter="url(#gelA)"/><g><path d="M588.4,62.8 L589.0,60.5" stroke="#356cb8" stroke-width="1.15" stroke-linecap="round"/><path d="M588.4,62.8 L589.0,60.5" stroke="#9ccaf2" stroke-width="0.70" stroke-linecap="round"/><path d="M593.5,65.5 L594.3,63.2" stroke="#356cb8" stroke-width="1.15" stroke-linecap="round"/><path d="M593.5,65.5 L594.3,63.2" stroke="#9ccaf2" stroke-width="0.70" stroke-linecap="round"/><path d="M584.8,66.5 L584.1,63.9" stroke="#356cb8" stroke-width="1.15" stroke-linecap="round"/><path d="M584.8,66.5 L584.1,63.9" stroke="#9ccaf2" stroke-width="0.70" stroke-linecap="round"/><path d="M597.4,66.9 L596.6,64.3" stroke="#356cb8" stroke-width="1.15" stroke-linecap="round"/><path d="M597.4,66.9 L596.6,64.3" stroke="#9ccaf2" stroke-width="0.70" stroke-linecap="round"/><path d="M601.5,67.7 L602.2,65.0" stroke="#356cb8" stroke-width="1.15" stroke-linecap="round"/><path d="M601.5,67.7 L602.2,65.0" stroke="#9ccaf2" stroke-width="0.70" stroke-linecap="round"/><path d="M587.9,67.8 L587.8,65.4" stroke="#356cb8" stroke-width="1.15" stroke-linecap="round"/><path d="M587.9,67.8 L587.8,65.4" stroke="#9ccaf2" stroke-width="0.70" stroke-linecap="round"/><path d="M580.6,68.4 L580.9,66.1" stroke="#356cb8" stroke-width="1.15" stroke-linecap="round"/><path d="M580.6,68.4 L580.9,66.1" stroke="#9ccaf2" stroke-width="0.70" stroke-linecap="round"/><path d="M593.6,69.5 L593.4,66.9" stroke="#356cb8" stroke-width="1.15" stroke-linecap="round"/><path d="M593.6,69.5 L593.4,66.9" stroke="#9ccaf2" stroke-width="0.70" stroke-linecap="round"/><path d="M585.4,69.8 L585.9,67.9" stroke="#356cb8" stroke-width="1.15" stroke-linecap="round"/><path d="M585.4,69.8 L585.9,67.9" stroke="#9ccaf2" stroke-width="0.70" stroke-linecap="round"/><path d="M606.0,70.0 L605.6,68.1" stroke="#356cb8" stroke-width="1.15" stroke-linecap="round"/><path d="M606.0,70.0 L605.6,68.1" stroke="#9ccaf2" stroke-width="0.70" stroke-linecap="round"/><path d="M597.7,70.2 L598.2,67.6" stroke="#356cb8" stroke-width="1.15" stroke-linecap="round"/><path d="M597.7,70.2 L598.2,67.6" stroke="#9ccaf2" stroke-width="0.70" stroke-linecap="round"/><path d="M577.4,70.8 L577.7,68.8" stroke="#356cb8" stroke-width="1.15" stroke-linecap="round"/><path d="M577.4,70.8 L577.7,68.8" stroke="#9ccaf2" stroke-width="0.70" stroke-linecap="round"/><path d="M588.4,72.0 L587.7,69.3" stroke="#356cb8" stroke-width="1.15" stroke-linecap="round"/><path d="M588.4,72.0 L587.7,69.3" stroke="#9ccaf2" stroke-width="0.70" stroke-linecap="round"/><path d="M609.3,72.4 L609.8,70.4" stroke="#356cb8" stroke-width="1.15" stroke-linecap="round"/><path d="M609.3,72.4 L609.8,70.4" stroke="#9ccaf2" stroke-width="0.70" stroke-linecap="round"/><path d="M580.5,72.9 L580.4,70.6" stroke="#356cb8" stroke-width="1.15" stroke-linecap="round"/><path d="M580.5,72.9 L580.4,70.6" stroke="#9ccaf2" stroke-width="0.70" stroke-linecap="round"/><path d="M585.9,73.0 L585.4,70.8" stroke="#356cb8" stroke-width="1.15" stroke-linecap="round"/><path d="M585.9,73.0 L585.4,70.8" stroke="#9ccaf2" stroke-width="0.70" stroke-linecap="round"/><path d="M600.4,73.2 L600.3,70.9" stroke="#356cb8" stroke-width="1.15" stroke-linecap="round"/><path d="M600.4,73.2 L600.3,70.9" stroke="#9ccaf2" stroke-width="0.70" stroke-linecap="round"/><path d="M572.0,73.4 L572.8,70.9" stroke="#356cb8" stroke-width="1.15" stroke-linecap="round"/><path d="M572.0,73.4 L572.8,70.9" stroke="#9ccaf2" stroke-width="0.70" stroke-linecap="round"/><path d="M592.4,73.9 L592.2,71.2" stroke="#356cb8" stroke-width="1.15" stroke-linecap="round"/><path d="M592.4,73.9 L592.2,71.2" stroke="#9ccaf2" stroke-width="0.70" stroke-linecap="round"/><path d="M613.4,74.2 L613.6,72.1" stroke="#356cb8" stroke-width="1.15" stroke-linecap="round"/><path d="M613.4,74.2 L613.6,72.1" stroke="#9ccaf2" stroke-width="0.70" stroke-linecap="round"/><path d="M604.8,74.7 L604.6,72.4" stroke="#356cb8" stroke-width="1.15" stroke-linecap="round"/><path d="M604.8,74.7 L604.6,72.4" stroke="#9ccaf2" stroke-width="0.70" stroke-linecap="round"/><path d="M588.8,74.7 L588.9,72.2" stroke="#356cb8" stroke-width="1.15" stroke-linecap="round"/><path d="M588.8,74.7 L588.9,72.2" stroke="#9ccaf2" stroke-width="0.70" stroke-linecap="round"/><path d="M576.5,75.0 L576.2,73.1" stroke="#356cb8" stroke-width="1.15" stroke-linecap="round"/><path d="M576.5,75.0 L576.2,73.1" stroke="#9ccaf2" stroke-width="0.70" stroke-linecap="round"/><path d="M597.4,75.2 L596.8,72.7" stroke="#356cb8" stroke-width="1.15" stroke-linecap="round"/><path d="M597.4,75.2 L596.8,72.7" stroke="#9ccaf2" stroke-width="0.70" stroke-linecap="round"/><path d="M569.4,75.2 L568.6,72.9" stroke="#356cb8" stroke-width="1.15" stroke-linecap="round"/><path d="M569.4,75.2 L568.6,72.9" stroke="#9ccaf2" stroke-width="0.70" stroke-linecap="round"/><path d="M617.6,75.7 L616.9,73.1" stroke="#356cb8" stroke-width="1.15" stroke-linecap="round"/><path d="M617.6,75.7 L616.9,73.1" stroke="#9ccaf2" stroke-width="0.70" stroke-linecap="round"/><path d="M621.2,76.0 L621.4,73.4" stroke="#356cb8" stroke-width="1.15" stroke-linecap="round"/><path d="M621.2,76.0 L621.4,73.4" stroke="#9ccaf2" stroke-width="0.70" stroke-linecap="round"/><path d="M573.1,76.2 L573.8,74.4" stroke="#356cb8" stroke-width="1.15" stroke-linecap="round"/><path d="M573.1,76.2 L573.8,74.4" stroke="#9ccaf2" stroke-width="0.70" stroke-linecap="round"/><path d="M608.7,76.5 L608.4,74.0" stroke="#356cb8" stroke-width="1.15" stroke-linecap="round"/><path d="M608.7,76.5 L608.4,74.0" stroke="#9ccaf2" stroke-width="0.70" stroke-linecap="round"/><path d="M581.1,76.6 L581.3,74.2" stroke="#356cb8" stroke-width="1.15" stroke-linecap="round"/><path d="M581.1,76.6 L581.3,74.2" stroke="#9ccaf2" stroke-width="0.70" stroke-linecap="round"/><path d="M614.5,76.6 L614.3,74.2" stroke="#356cb8" stroke-width="1.15" stroke-linecap="round"/><path d="M614.5,76.6 L614.3,74.2" stroke="#9ccaf2" stroke-width="0.70" stroke-linecap="round"/><path d="M601.0,77.0 L600.7,75.1" stroke="#356cb8" stroke-width="1.15" stroke-linecap="round"/><path d="M601.0,77.0 L600.7,75.1" stroke="#9ccaf2" stroke-width="0.70" stroke-linecap="round"/><path d="M593.3,77.7 L593.0,75.6" stroke="#356cb8" stroke-width="1.15" stroke-linecap="round"/><path d="M593.3,77.7 L593.0,75.6" stroke="#9ccaf2" stroke-width="0.70" stroke-linecap="round"/><path d="M585.0,77.9 L584.7,75.3" stroke="#356cb8" stroke-width="1.15" stroke-linecap="round"/><path d="M585.0,77.9 L584.7,75.3" stroke="#9ccaf2" stroke-width="0.70" stroke-linecap="round"/><path d="M565.0,77.9 L564.4,75.6" stroke="#356cb8" stroke-width="1.15" stroke-linecap="round"/><path d="M565.0,77.9 L564.4,75.6" stroke="#9ccaf2" stroke-width="0.70" stroke-linecap="round"/><path d="M605.5,78.5 L605.6,75.8" stroke="#356cb8" stroke-width="1.15" stroke-linecap="round"/><path d="M605.5,78.5 L605.6,75.8" stroke="#9ccaf2" stroke-width="0.70" stroke-linecap="round"/><path d="M577.0,78.8 L576.9,76.7" stroke="#356cb8" stroke-width="1.15" stroke-linecap="round"/><path d="M577.0,78.8 L576.9,76.7" stroke="#9ccaf2" stroke-width="0.70" stroke-linecap="round"/><path d="M596.7,79.0 L597.4,76.7" stroke="#356cb8" stroke-width="1.15" stroke-linecap="round"/><path d="M596.7,79.0 L597.4,76.7" stroke="#9ccaf2" stroke-width="0.70" stroke-linecap="round"/><path d="M560.4,79.0 L560.5,77.0" stroke="#356cb8" stroke-width="1.15" stroke-linecap="round"/><path d="M560.4,79.0 L560.5,77.0" stroke="#9ccaf2" stroke-width="0.70" stroke-linecap="round"/><path d="M589.3,79.0 L588.7,76.8" stroke="#356cb8" stroke-width="1.15" stroke-linecap="round"/><path d="M589.3,79.0 L588.7,76.8" stroke="#9ccaf2" stroke-width="0.70" stroke-linecap="round"/><path d="M609.5,79.4 L609.8,77.2" stroke="#356cb8" stroke-width="1.15" stroke-linecap="round"/><path d="M609.5,79.4 L609.8,77.2" stroke="#9ccaf2" stroke-width="0.70" stroke-linecap="round"/><path d="M569.4,79.5 L570.1,77.2" stroke="#356cb8" stroke-width="1.15" stroke-linecap="round"/><path d="M569.4,79.5 L570.1,77.2" stroke="#9ccaf2" stroke-width="0.70" stroke-linecap="round"/><path d="M618.7,79.7 L618.4,77.3" stroke="#356cb8" stroke-width="1.15" stroke-linecap="round"/><path d="M618.7,79.7 L618.4,77.3" stroke="#9ccaf2" stroke-width="0.70" stroke-linecap="round"/><path d="M580.7,80.0 L580.3,77.3" stroke="#356cb8" stroke-width="1.15" stroke-linecap="round"/><path d="M580.7,80.0 L580.3,77.3" stroke="#9ccaf2" stroke-width="0.70" stroke-linecap="round"/><path d="M601.1,80.6 L601.4,78.1" stroke="#356cb8" stroke-width="1.15" stroke-linecap="round"/><path d="M601.1,80.6 L601.4,78.1" stroke="#9ccaf2" stroke-width="0.70" stroke-linecap="round"/><path d="M573.5,80.8 L572.9,78.4" stroke="#356cb8" stroke-width="1.15" stroke-linecap="round"/><path d="M573.5,80.8 L572.9,78.4" stroke="#9ccaf2" stroke-width="0.70" stroke-linecap="round"/><path d="M613.3,81.3 L613.0,79.4" stroke="#356cb8" stroke-width="1.15" stroke-linecap="round"/><path d="M613.3,81.3 L613.0,79.4" stroke="#9ccaf2" stroke-width="0.70" stroke-linecap="round"/><path d="M606.2,81.3 L606.3,78.7" stroke="#356cb8" stroke-width="1.15" stroke-linecap="round"/><path d="M606.2,81.3 L606.3,78.7" stroke="#9ccaf2" stroke-width="0.70" stroke-linecap="round"/><path d="M564.4,81.4 L564.1,78.9" stroke="#356cb8" stroke-width="1.15" stroke-linecap="round"/><path d="M564.4,81.4 L564.1,78.9" stroke="#9ccaf2" stroke-width="0.70" stroke-linecap="round"/><path d="M577.0,81.7 L577.6,79.3" stroke="#356cb8" stroke-width="1.15" stroke-linecap="round"/><path d="M577.0,81.7 L577.6,79.3" stroke="#9ccaf2" stroke-width="0.70" stroke-linecap="round"/><path d="M585.4,81.7 L585.1,79.3" stroke="#356cb8" stroke-width="1.15" stroke-linecap="round"/><path d="M585.4,81.7 L585.1,79.3" stroke="#9ccaf2" stroke-width="0.70" stroke-linecap="round"/><path d="M593.5,81.8 L593.6,79.7" stroke="#356cb8" stroke-width="1.15" stroke-linecap="round"/><path d="M593.5,81.8 L593.6,79.7" stroke="#9ccaf2" stroke-width="0.70" stroke-linecap="round"/><path d="M557.2,82.2 L556.8,79.9" stroke="#356cb8" stroke-width="1.15" stroke-linecap="round"/><path d="M557.2,82.2 L556.8,79.9" stroke="#9ccaf2" stroke-width="0.70" stroke-linecap="round"/><path d="M569.7,82.3 L569.6,79.9" stroke="#356cb8" stroke-width="1.15" stroke-linecap="round"/><path d="M569.7,82.3 L569.6,79.9" stroke="#9ccaf2" stroke-width="0.70" stroke-linecap="round"/><path d="M590.5,82.7 L591.1,80.0" stroke="#356cb8" stroke-width="1.15" stroke-linecap="round"/><path d="M590.5,82.7 L591.1,80.0" stroke="#9ccaf2" stroke-width="0.70" stroke-linecap="round"/><path d="M597.7,83.1 L598.3,80.9" stroke="#356cb8" stroke-width="1.15" stroke-linecap="round"/><path d="M597.7,83.1 L598.3,80.9" stroke="#9ccaf2" stroke-width="0.70" stroke-linecap="round"/><path d="M581.1,83.5 L581.1,81.0" stroke="#356cb8" stroke-width="1.15" stroke-linecap="round"/><path d="M581.1,83.5 L581.1,81.0" stroke="#9ccaf2" stroke-width="0.70" stroke-linecap="round"/><path d="M610.8,83.8 L610.3,81.4" stroke="#356cb8" stroke-width="1.15" stroke-linecap="round"/><path d="M610.8,83.8 L610.3,81.4" stroke="#9ccaf2" stroke-width="0.70" stroke-linecap="round"/><path d="M594.6,84.2 L594.8,82.3" stroke="#356cb8" stroke-width="1.15" stroke-linecap="round"/><path d="M594.6,84.2 L594.8,82.3" stroke="#9ccaf2" stroke-width="0.70" stroke-linecap="round"/><path d="M561.7,84.2 L562.4,81.7" stroke="#356cb8" stroke-width="1.15" stroke-linecap="round"/><path d="M561.7,84.2 L562.4,81.7" stroke="#9ccaf2" stroke-width="0.70" stroke-linecap="round"/><path d="M601.3,84.8 L601.4,82.2" stroke="#356cb8" stroke-width="1.15" stroke-linecap="round"/><path d="M601.3,84.8 L601.4,82.2" stroke="#9ccaf2" stroke-width="0.70" stroke-linecap="round"/><path d="M564.7,85.1 L565.5,83.0" stroke="#356cb8" stroke-width="1.15" stroke-linecap="round"/><path d="M564.7,85.1 L565.5,83.0" stroke="#9ccaf2" stroke-width="0.70" stroke-linecap="round"/><path d="M585.7,85.2 L585.6,82.6" stroke="#356cb8" stroke-width="1.15" stroke-linecap="round"/><path d="M585.7,85.2 L585.6,82.6" stroke="#9ccaf2" stroke-width="0.70" stroke-linecap="round"/><path d="M573.1,85.5 L572.4,82.9" stroke="#356cb8" stroke-width="1.15" stroke-linecap="round"/><path d="M573.1,85.5 L572.4,82.9" stroke="#9ccaf2" stroke-width="0.70" stroke-linecap="round"/><path d="M606.2,86.7 L605.4,84.8" stroke="#356cb8" stroke-width="1.15" stroke-linecap="round"/><path d="M606.2,86.7 L605.4,84.8" stroke="#9ccaf2" stroke-width="0.70" stroke-linecap="round"/><path d="M569.3,86.8 L569.8,84.3" stroke="#356cb8" stroke-width="1.15" stroke-linecap="round"/><path d="M569.3,86.8 L569.8,84.3" stroke="#9ccaf2" stroke-width="0.70" stroke-linecap="round"/><path d="M589.1,86.9 L588.7,84.4" stroke="#356cb8" stroke-width="1.15" stroke-linecap="round"/><path d="M589.1,86.9 L588.7,84.4" stroke="#9ccaf2" stroke-width="0.70" stroke-linecap="round"/><path d="M578.3,87.1 L578.3,85.1" stroke="#356cb8" stroke-width="1.15" stroke-linecap="round"/><path d="M578.3,87.1 L578.3,85.1" stroke="#9ccaf2" stroke-width="0.70" stroke-linecap="round"/><path d="M597.4,87.6 L597.4,85.1" stroke="#356cb8" stroke-width="1.15" stroke-linecap="round"/><path d="M597.4,87.6 L597.4,85.1" stroke="#9ccaf2" stroke-width="0.70" stroke-linecap="round"/><path d="M593.9,88.2 L594.1,86.0" stroke="#356cb8" stroke-width="1.15" stroke-linecap="round"/><path d="M593.9,88.2 L594.1,86.0" stroke="#9ccaf2" stroke-width="0.70" stroke-linecap="round"/><path d="M581.1,88.5 L580.6,85.9" stroke="#356cb8" stroke-width="1.15" stroke-linecap="round"/><path d="M581.1,88.5 L580.6,85.9" stroke="#9ccaf2" stroke-width="0.70" stroke-linecap="round"/><path d="M574.0,88.9 L573.7,87.1" stroke="#356cb8" stroke-width="1.15" stroke-linecap="round"/><path d="M574.0,88.9 L573.7,87.1" stroke="#9ccaf2" stroke-width="0.70" stroke-linecap="round"/><path d="M602.7,89.0 L602.3,86.7" stroke="#356cb8" stroke-width="1.15" stroke-linecap="round"/><path d="M602.7,89.0 L602.3,86.7" stroke="#9ccaf2" stroke-width="0.70" stroke-linecap="round"/><path d="M577.5,89.5 L578.1,87.2" stroke="#356cb8" stroke-width="1.15" stroke-linecap="round"/><path d="M577.5,89.5 L578.1,87.2" stroke="#9ccaf2" stroke-width="0.70" stroke-linecap="round"/><path d="M598.2,89.8 L597.8,87.6" stroke="#356cb8" stroke-width="1.15" stroke-linecap="round"/><path d="M598.2,89.8 L597.8,87.6" stroke="#9ccaf2" stroke-width="0.70" stroke-linecap="round"/><path d="M586.8,90.3 L586.7,88.1" stroke="#356cb8" stroke-width="1.15" stroke-linecap="round"/><path d="M586.8,90.3 L586.7,88.1" stroke="#9ccaf2" stroke-width="0.70" stroke-linecap="round"/><path d="M589.3,92.1 L589.5,89.8" stroke="#356cb8" stroke-width="1.15" stroke-linecap="round"/><path d="M589.3,92.1 L589.5,89.8" stroke="#9ccaf2" stroke-width="0.70" stroke-linecap="round"/><path d="M581.2,92.3 L580.8,89.6" stroke="#356cb8" stroke-width="1.15" stroke-linecap="round"/><path d="M581.2,92.3 L580.8,89.6" stroke="#9ccaf2" stroke-width="0.70" stroke-linecap="round"/><path d="M594.2,92.5 L594.5,90.1" stroke="#356cb8" stroke-width="1.15" stroke-linecap="round"/><path d="M594.2,92.5 L594.5,90.1" stroke="#9ccaf2" stroke-width="0.70" stroke-linecap="round"/><path d="M585.4,92.9 L585.9,90.6" stroke="#356cb8" stroke-width="1.15" stroke-linecap="round"/><path d="M585.4,92.9 L585.9,90.6" stroke="#9ccaf2" stroke-width="0.70" stroke-linecap="round"/><path d="M591.1,95.9 L591.8,93.3" stroke="#356cb8" stroke-width="1.15" stroke-linecap="round"/><path d="M591.1,95.9 L591.8,93.3" stroke="#9ccaf2" stroke-width="0.70" stroke-linecap="round"/></g><text x="67" y="20.3" font-size="8.6" fill="#000" stroke="#000" stroke-width="0.12">Bi</text><text x="75.5" y="25.5" font-size="14.3" text-anchor="start" font-weight="normal" fill="#000" stroke="#000" stroke-width="0.3" >Gel</text><text x="4.5" y="113.8" font-size="15" text-anchor="start" font-weight="normal" fill="#000" stroke="#000" stroke-width="0.3" >Worn</text><text x="44.2" y="108.4" font-size="8.6" fill="#000" stroke="#000" stroke-width="0.12">Bi</text><text x="51.8" y="113.8" font-size="15" text-anchor="start" font-weight="normal" fill="#000" stroke="#000" stroke-width="0.3" >Gel</text><text x="156.3" y="33.6" font-size="15" text-anchor="middle" font-weight="normal" fill="#000" stroke="#000" stroke-width="0.3" >NaOH</text><text x="156.6" y="51.5" font-size="15" text-anchor="middle" font-weight="normal" fill="#000" stroke="#000" stroke-width="0.3" >Degradation</text><text x="294.5" y="33.6" font-size="15" text-anchor="middle" font-weight="normal" fill="#000" stroke="#000" stroke-width="0.3" >HCl</text><text x="294.4" y="51.5" font-size="15" text-anchor="middle" font-weight="normal" fill="#000" stroke="#000" stroke-width="0.3" >Gelation</text><text x="471" y="33.6" font-size="15" text-anchor="middle" font-weight="normal" fill="#000" stroke="#000" stroke-width="0.3" >PBS</text><text x="470.2" y="51.5" font-size="15" text-anchor="middle" font-weight="normal" fill="#000" stroke="#000" stroke-width="0.3" >Dissociation</text><text x="519.5" y="175.4" font-size="15" text-anchor="middle" font-weight="normal" fill="#000" stroke="#000" stroke-width="0.3" >Friction &amp; Wear</text><line x1="124.6" y1="65.2" x2="176.79999999999998" y2="65.2" stroke="#1d4f91" stroke-width="2"/><polygon points="192.7,65.2 172.4,56.5 176.8,65.2 172.4,73.9" fill="#1d4f91"/><line x1="263.2" y1="65.2" x2="314.7" y2="65.2" stroke="#1d4f91" stroke-width="2"/><polygon points="330.6,65.2 310.3,56.5 314.7,65.2 310.3,73.9" fill="#1d4f91"/><line x1="440" y1="65.2" x2="492.09999999999997" y2="65.2" stroke="#1d4f91" stroke-width="2"/><polygon points="508.0,65.2 487.7,56.5 492.1,65.2 487.7,73.9" fill="#1d4f91"/><polyline points="595.3,112.7 595.3,162" fill="none" stroke="#1d4f91" stroke-width="2"/><polygon points="595.3,181 587,160.3 595.3,164.5 604.4,160.3" fill="#1d4f91"/><line x1="594.5" y1="182" x2="103" y2="182" stroke="#1d4f91" stroke-width="2"/><polygon points="86.7,182 106.8,173.5 101.7,182 106.8,190.5" fill="#1d4f91"/><line x1="84.7" y1="183" x2="84.7" y2="130" stroke="#1d4f91" stroke-width="2"/><polygon points="84.7,114.6 93.3,134.2 84.7,129.8 76.1,134.2" fill="#1d4f91"/><rect x="240.6" y="169" width="182.3" height="24.4" fill="#e49f2a"/><text x="334" y="187" font-size="14.7" font-weight="bold" fill="#fff" text-anchor="middle">Closed-loop Recycling</text><g transform="translate(132.4,90.4)"><rect width="42.5" height="43.3" fill="url(#photoDark)"/><rect y="35.8" width="42.5" height="7.5" fill="#3a3a3a"/><path d="M28.5,37.8 L42.5,38.3" stroke="#9a9a9a" stroke-width="0.9" opacity="0.8"/><path d="M26.5,39.8 L42.5,40.3" stroke="#7a7a7a" stroke-width="0.7" opacity="0.8"/><path d="M0,39.3 L12,38.8" stroke="#555" stroke-width="1" opacity="0.8"/><g transform="translate(20.8,18.6) rotate(-47)"><rect x="-16.5" y="-7.4" width="24.5" height="14.8" rx="1" fill="#7b8a8a" opacity="0.8"/><rect x="-16.5" y="-7.4" width="10" height="14.8" fill="#8fcfcf" opacity="0.45"/><rect x="-15" y="-4.5" width="21" height="3.5" fill="#c6d6d6" opacity="0.5"/><rect x="-15" y="2" width="21" height="2" fill="#aabbbb" opacity="0.4"/><rect x="-16.5" y="-7.4" width="24.5" height="14.8" rx="1" fill="none" stroke="#d8eaea" stroke-width="0.9" opacity="0.85"/><path d="M-7,-7.4 L-5,7.4" stroke="#e6f4f4" stroke-width="1" opacity="0.8"/><rect x="7.5" y="-6.9" width="9.5" height="13.8" rx="0.8" fill="#1d1d1d" stroke="#4a4a4a" stroke-width="0.6"/><rect x="7.5" y="-6.9" width="1.8" height="13.8" fill="#5a5a5a"/><rect x="15" y="-6.9" width="2" height="13.8" fill="#3a3a3a"/></g><path d="M12.6,38.9 L22.2,29.4 L27,38.9 Z M12.6,38.9 L11.5,36" fill="none" stroke="#35bcc0" stroke-width="1.5" stroke-linejoin="round"/></g><g transform="translate(273.4,90.4)"><rect width="42.9" height="43.3" fill="url(#photoDark)"/><rect y="35.8" width="42.9" height="7.5" fill="#3a3a3a"/><path d="M28.9,37.8 L42.9,38.3" stroke="#9a9a9a" stroke-width="0.9" opacity="0.8"/><path d="M26.9,39.8 L42.9,40.3" stroke="#7a7a7a" stroke-width="0.7" opacity="0.8"/><path d="M0,39.3 L12,38.8" stroke="#555" stroke-width="1" opacity="0.8"/><g transform="translate(20.8,18.6) rotate(-47)"><rect x="-16.5" y="-7.4" width="24.5" height="14.8" rx="1" fill="#7b8a8a" opacity="0.8"/><rect x="-16.5" y="-7.4" width="10" height="14.8" fill="#8fcfcf" opacity="0.45"/><rect x="-15" y="-4.5" width="21" height="3.5" fill="#c6d6d6" opacity="0.5"/><rect x="-15" y="2" width="21" height="2" fill="#aabbbb" opacity="0.4"/><rect x="-16.5" y="-7.4" width="24.5" height="14.8" rx="1" fill="none" stroke="#d8eaea" stroke-width="0.9" opacity="0.85"/><path d="M-7,-7.4 L-5,7.4" stroke="#e6f4f4" stroke-width="1" opacity="0.8"/><rect x="7.5" y="-6.9" width="9.5" height="13.8" rx="0.8" fill="#1d1d1d" stroke="#4a4a4a" stroke-width="0.6"/><rect x="7.5" y="-6.9" width="1.8" height="13.8" fill="#5a5a5a"/><rect x="15" y="-6.9" width="2" height="13.8" fill="#3a3a3a"/></g><path d="M12.6,38.9 L22.2,29.4 L27,38.9 Z M12.6,38.9 L11.5,36" fill="none" stroke="#35bcc0" stroke-width="1.5" stroke-linejoin="round"/></g><rect x="442.5" y="89.9" width="66.1" height="42.2" fill="#555"/><rect x="446" y="92" width="30" height="20" fill="#626262" opacity="0.5" filter="url(#soft)"/><path d="M456,97.6 L488.5,99.4 L497,104.2 L495,125.4 L458,122.6 Q454.5,121.5 454,117 L452.4,104.5 Q452.6,98.5 456,97.6 Z" fill="#a6b6c6" stroke="#c3d0dc" stroke-width="0.9" stroke-linejoin="round"/><path d="M457,100 L478,101.5 L476,112 L460,116 Z" fill="#bac8d6" opacity="0.7"/><path d="M480,108 L493,110 L492,122 L478,120 Z" fill="#9aabbd" opacity="0.6"/><path d="M488,103 L508.6,104.7" stroke="#cfbc9a" stroke-width="1.2"/><g><circle cx="228" cy="77" r="20.7" fill="#f4f6f8" stroke="#b5b9bd" stroke-width="0.7"/><clipPath id="bulbclip"><circle cx="228" cy="77" r="20.3"/></clipPath><rect x="205" y="76.5" width="46" height="25" fill="url(#liq)" clip-path="url(#bulbclip)"/><ellipse cx="228" cy="76.6" rx="19.8" ry="5" fill="#7f9fc7"/><ellipse cx="221.5" cy="91.5" rx="2.6" ry="1.5" fill="#fff" opacity="0.85" transform="rotate(35 221.5 91.5)"/><rect x="221.6" y="22.5" width="13.8" height="36" fill="#f4f6f8"/><path d="M221.6,22.8 V57.3 M235.4,22.8 V57.3" stroke="#b5b9bd" stroke-width="0.7" fill="none"/><ellipse cx="228.5" cy="22.8" rx="8.6" ry="1.6" fill="#f6f8fa" stroke="#b5b9bd" stroke-width="0.7"/></g></g><g id="panelB"><text x="3.3" y="239.4" font-size="15.5" text-anchor="start" font-weight="normal" fill="#000" stroke="#000" stroke-width="0.3" >b</text><rect x="17.2" y="231" width="108.9" height="127.4" fill="none" stroke="#111" stroke-width="1.4" stroke-dasharray="2.6 1.6"/><rect x="22" y="233.7" width="37.7" height="40.8" fill="#9b9b9b"/><path d="M34.8,239.7 H39.2 V261.1 H50.4 V265.8 H34.8 Z" fill="#a8d5f8"/><path d="M77.6,241 Q77.8,262 90,268.5 Q98,271.5 106,268.5 Q118.3,262 118.5,241" fill="#f3f5f7" stroke="#c8ccd0" stroke-width="0.7"/><path d="M78.3,250.2 Q78.8,262.5 90,268.5 Q98,271.2 106,268.5 Q117.4,262.5 118.1,250.2 Z" fill="#9dc1ea"/><ellipse cx="98.2" cy="250.2" rx="19.9" ry="5.3" fill="#7594bb"/><ellipse cx="91" cy="263.5" rx="2.4" ry="1.3" fill="#fff" opacity="0.9" transform="rotate(35 91 263.5)"/><path d="M37.2,256.8 L85.5,248.2 M37.2,256.8 L85.5,264.7" stroke="#f0a025" stroke-width="1.7" stroke-dasharray="1.6 1.7" fill="none"/><line x1="41.5" y1="281" x2="41.5" y2="298" stroke="#111" stroke-width="1.3"/><polygon points="41.5,305.6 37.8,296.8 41.5,298.8 45.2,296.8" fill="#111"/><text x="74.3" y="291.3" font-size="10.5" text-anchor="middle" font-weight="normal" fill="#000" stroke="#000" stroke-width="0.15" >Shape</text><text x="73.9" y="302.8" font-size="10.5" text-anchor="middle" font-weight="normal" fill="#000" stroke="#000" stroke-width="0.15" >reshaping</text><rect x="21.9" y="313.4" width="37.5" height="41.4" fill="#9b9b9b"/><path d="M34.7,319.2 H39.1 V341.2 H50.2 V345.7 H34.7 Z" fill="#1668cc"/><polygon points="72.6,328.3 98.2,335.6 99.6,350.1 73.3,340.8" fill="#000" filter="url(#gelA)"/><polygon points="98.2,335.6 119.1,326.1 117.9,336.6 99.6,350.1" fill="#000" filter="url(#gelA)"/><polygon points="98.2,335.6 119.1,326.1 117.9,336.6 99.6,350.1" fill="#000" opacity="0.18"/><polygon points="72.6,328.3 94.0,320.0 119.1,326.1 98.2,335.6" fill="#000" filter="url(#gelA)"/><path d="M36.9,332.6 L76.2,324.4 M36.9,332.6 L78,343.9" stroke="#f0a025" stroke-width="1.7" stroke-dasharray="1.6 1.7" fill="none"/></g><g id="panelC"><text x="145.9" y="239.4" font-size="16" text-anchor="start" font-weight="normal" fill="#000" stroke="#000" stroke-width="0.3" >c</text><rect x="160.1" y="230.5" width="79.8" height="70.7" fill="url(#leafBg)"/><rect x="160.6" y="231" width="78.8" height="69.7" fill="none" stroke="#060a06" stroke-width="1"/><path d="M199.4,245.2 C200.1,244.8 200.6,241.9 201.9,240.8 C203.2,239.7 205.5,238.8 207.0,238.6 C208.5,238.4 209.3,238.8 210.8,239.5 C212.3,240.2 214.2,241.8 215.9,242.7 C217.6,243.5 219.5,243.5 221.0,244.6 C222.5,245.7 223.9,247.7 224.8,249.0 C225.8,250.3 225.6,251.3 226.7,252.2 C227.8,253.0 230.1,253.2 231.1,254.1 C232.1,254.9 232.6,256.2 232.6,257.3 C232.6,258.4 232.2,259.8 231.1,260.5 C230.0,261.2 227.9,261.3 226.0,261.7 C224.1,262.1 221.8,262.2 219.7,263.0 C217.6,263.8 215.4,264.7 213.3,266.2 C211.2,267.7 208.7,269.5 207.0,271.9 C205.3,274.3 204.1,277.8 203.2,280.8 C202.2,283.8 201.7,287.5 201.3,289.7 C200.9,291.9 201.1,293.1 200.8,294.1 C200.5,295.1 199.9,295.6 199.4,295.6 C198.9,295.6 198.3,295.7 198.0,294.1 C197.7,292.5 197.7,288.8 197.3,285.9 C196.9,283.0 196.6,279.8 195.6,277.0 C194.6,274.2 193.2,271.4 191.5,269.4 C189.8,267.4 187.7,266.1 185.4,264.9 C183.1,263.7 180.3,263.0 177.8,262.4 C175.3,261.8 172.1,261.7 170.2,261.1 C168.3,260.5 167.0,259.5 166.5,258.6 C166.0,257.8 166.3,256.9 167.0,256.0 C167.7,255.2 169.9,254.7 170.8,253.5 C171.8,252.3 171.8,250.4 172.7,249.0 C173.6,247.6 175.0,246.1 176.5,245.2 C178.0,244.2 180.1,244.1 181.6,243.3 C183.1,242.5 183.9,240.9 185.4,240.2 C186.9,239.5 189.0,238.9 190.5,238.9 C192.0,238.9 193.1,239.5 194.3,240.2 C195.5,240.9 196.7,242.2 197.5,243.0 C198.3,243.8 198.7,245.6 199.4,245.2 Z" fill="#9fd49b" stroke="#b2e8ad" stroke-width="1" filter="url(#glow)"/><rect x="249" y="230.7" width="135" height="70.3" fill="#070907"/><rect x="345" y="230.7" width="39" height="70.3" fill="#1a1f1a" opacity="0.5"/><g font-size="48" fill="#8fd68a" stroke="#8fd68a" stroke-width="1.2" filter="url(#glow)"><text x="257.3" y="284.3" textLength="27.5" lengthAdjust="spacingAndGlyphs">L</text><text x="289.6" y="284.3">I</text><text x="311.6" y="284.3" textLength="27.5" lengthAdjust="spacingAndGlyphs">C</text><text x="349.8" y="284.3" textLength="27.5" lengthAdjust="spacingAndGlyphs">P</text></g><rect x="159.9" y="309.8" width="224" height="47.6" fill="#060606"/><text x="165.13 186.21 209.56 233.36 250.42 262.45 281.82 303.15 319.72 331.36 353.76" y="346" font-size="37" font-weight="bold" fill="#8fd48b" stroke="#8fd48b" stroke-width="1.2" filter="url(#glow)">Lubrication</text></g><g id="panelD"><text x="405.2" y="239.4" font-size="15.5" text-anchor="start" font-weight="normal" fill="#000" stroke="#000" stroke-width="0.3" >d</text><line x1="438.3" y1="357.00" x2="441.3" y2="357.00" stroke="#333" stroke-width="1"/><text x="436.2" y="360.2" font-size="11" text-anchor="end" font-weight="normal" fill="#000" stroke="#000" stroke-width="0.3" >0.0</text><line x1="439.5" y1="348.04" x2="441.3" y2="348.04" stroke="#333" stroke-width="1"/><line x1="438.3" y1="339.09" x2="441.3" y2="339.09" stroke="#333" stroke-width="1"/><text x="436.2" y="342.2857142857143" font-size="11" text-anchor="end" font-weight="normal" fill="#000" stroke="#000" stroke-width="0.3" >0.2</text><line x1="439.5" y1="330.13" x2="441.3" y2="330.13" stroke="#333" stroke-width="1"/><line x1="438.3" y1="321.17" x2="441.3" y2="321.17" stroke="#333" stroke-width="1"/><text x="436.2" y="324.37142857142857" font-size="11" text-anchor="end" font-weight="normal" fill="#000" stroke="#000" stroke-width="0.3" >0.4</text><line x1="439.5" y1="312.21" x2="441.3" y2="312.21" stroke="#333" stroke-width="1"/><line x1="438.3" y1="303.26" x2="441.3" y2="303.26" stroke="#333" stroke-width="1"/><text x="436.2" y="306.45714285714286" font-size="11" text-anchor="end" font-weight="normal" fill="#000" stroke="#000" stroke-width="0.3" >0.6</text><line x1="439.5" y1="294.30" x2="441.3" y2="294.30" stroke="#333" stroke-width="1"/><line x1="438.3" y1="285.34" x2="441.3" y2="285.34" stroke="#333" stroke-width="1"/><text x="436.2" y="288.54285714285714" font-size="11" text-anchor="end" font-weight="normal" fill="#000" stroke="#000" stroke-width="0.3" >0.8</text><line x1="439.5" y1="276.39" x2="441.3" y2="276.39" stroke="#333" stroke-width="1"/><line x1="438.3" y1="267.43" x2="441.3" y2="267.43" stroke="#333" stroke-width="1"/><text x="436.2" y="270.62857142857143" font-size="11" text-anchor="end" font-weight="normal" fill="#000" stroke="#000" stroke-width="0.3" >1.0</text><line x1="439.5" y1="258.47" x2="441.3" y2="258.47" stroke="#333" stroke-width="1"/><line x1="438.3" y1="249.51" x2="441.3" y2="249.51" stroke="#333" stroke-width="1"/><text x="436.2" y="252.71428571428567" font-size="11" text-anchor="end" font-weight="normal" fill="#000" stroke="#000" stroke-width="0.3" >1.2</text><line x1="439.5" y1="240.56" x2="441.3" y2="240.56" stroke="#333" stroke-width="1"/><line x1="438.3" y1="231.60" x2="441.3" y2="231.60" stroke="#333" stroke-width="1"/><text x="436.2" y="234.79999999999995" font-size="11" text-anchor="end" font-weight="normal" fill="#000" stroke="#000" stroke-width="0.3" >1.4</text><text transform="translate(415.8,294.8) rotate(-90)" font-size="14" text-anchor="middle" fill="#000" stroke="#000" stroke-width="0.3">CoF</text><rect x="443.50" y="318.48" width="6.7" height="38.52" fill="url(#hatchB)" stroke="#28529c" stroke-width="1"/><path d="M446.90,315.80 V321.17 M445.10,315.80 H448.70 M445.10,321.17 H448.70" stroke="#2a5aa8" stroke-width="0.9" fill="none"/><rect x="450.50" y="353.24" width="6.6" height="3.76" fill="url(#hatchP)" stroke="#c94a66" stroke-width="0.9"/><path d="M453.70,352.79 V353.69 M452.10,352.79 H455.30" stroke="#c94a66" stroke-width="0.9" fill="none"/><line x1="450.30" y1="357.0" x2="450.30" y2="360.0" stroke="#333" stroke-width="1"/><text transform="translate(455.90,364.6) rotate(-45)" font-size="9.3" text-anchor="end" fill="#111">Ti</text><rect x="458.32" y="309.53" width="6.7" height="47.47" fill="url(#hatchB)" stroke="#28529c" stroke-width="1"/><path d="M461.72,307.74 V311.32 M459.92,307.74 H463.52 M459.92,311.32 H463.52" stroke="#2a5aa8" stroke-width="0.9" fill="none"/><rect x="465.32" y="353.87" width="6.6" height="3.13" fill="url(#hatchP)" stroke="#c94a66" stroke-width="0.9"/><path d="M468.52,353.42 V354.31 M466.92,353.42 H470.12" stroke="#c94a66" stroke-width="0.9" fill="none"/><line x1="465.12" y1="357.0" x2="465.12" y2="360.0" stroke="#333" stroke-width="1"/><text transform="translate(470.72,364.6) rotate(-45)" font-size="9.3" text-anchor="end" fill="#111">Al</text><rect x="473.14" y="331.29" width="6.7" height="25.71" fill="url(#hatchB)" stroke="#28529c" stroke-width="1"/><path d="M476.54,325.02 V337.56 M474.74,325.02 H478.34 M474.74,337.56 H478.34" stroke="#2a5aa8" stroke-width="0.9" fill="none"/><rect x="480.14" y="353.42" width="6.6" height="3.58" fill="url(#hatchP)" stroke="#c94a66" stroke-width="0.9"/><path d="M483.34,352.97 V353.87 M481.74,352.97 H484.94" stroke="#c94a66" stroke-width="0.9" fill="none"/><line x1="479.94" y1="357.0" x2="479.94" y2="360.0" stroke="#333" stroke-width="1"/><text transform="translate(485.54,364.6) rotate(-45)" font-size="9.3" text-anchor="end" fill="#111">Cu</text><rect x="487.96" y="321.17" width="6.7" height="35.83" fill="url(#hatchB)" stroke="#28529c" stroke-width="1"/><path d="M491.36,320.72 V321.62 M489.56,320.72 H493.16 M489.56,321.62 H493.16" stroke="#2a5aa8" stroke-width="0.9" fill="none"/><rect x="494.96" y="352.52" width="6.6" height="4.48" fill="url(#hatchP)" stroke="#c94a66" stroke-width="0.9"/><path d="M498.16,349.83 V355.21 M496.56,349.83 H499.76" stroke="#c94a66" stroke-width="0.9" fill="none"/><line x1="494.76" y1="357.0" x2="494.76" y2="360.0" stroke="#333" stroke-width="1"/><text transform="translate(500.36,364.6) rotate(-45)" font-size="9.3" text-anchor="end" fill="#111">Steel</text><rect x="502.78" y="305.41" width="6.7" height="51.59" fill="url(#hatchB)" stroke="#28529c" stroke-width="1"/><path d="M506.18,290.18 V320.63 M504.38,290.18 H507.98 M504.38,320.63 H507.98" stroke="#2a5aa8" stroke-width="0.9" fill="none"/><rect x="509.78" y="353.87" width="6.6" height="3.13" fill="url(#hatchP)" stroke="#c94a66" stroke-width="0.9"/><path d="M512.98,353.42 V354.31 M511.38,353.42 H514.58" stroke="#c94a66" stroke-width="0.9" fill="none"/><line x1="509.58" y1="357.0" x2="509.58" y2="360.0" stroke="#333" stroke-width="1"/><text transform="translate(515.18,364.6) rotate(-45)" font-size="9.3" text-anchor="end" fill="#111">Corundum</text><rect x="517.60" y="328.34" width="6.7" height="28.66" fill="url(#hatchB)" stroke="#28529c" stroke-width="1"/><path d="M521.00,323.41 V333.26 M519.20,323.41 H522.80 M519.20,333.26 H522.80" stroke="#2a5aa8" stroke-width="0.9" fill="none"/><rect x="524.60" y="352.52" width="6.6" height="4.48" fill="url(#hatchP)" stroke="#c94a66" stroke-width="0.9"/><path d="M527.80,350.73 V354.31 M526.20,350.73 H529.40" stroke="#c94a66" stroke-width="0.9" fill="none"/><line x1="524.40" y1="357.0" x2="524.40" y2="360.0" stroke="#333" stroke-width="1"/><text transform="translate(530.00,364.6) rotate(-45)" font-size="9.3" text-anchor="end" fill="#111">Ceramic</text><rect x="532.42" y="337.29" width="6.7" height="19.71" fill="url(#hatchB)" stroke="#28529c" stroke-width="1"/><path d="M535.82,332.37 V342.22 M534.02,332.37 H537.62 M534.02,342.22 H537.62" stroke="#2a5aa8" stroke-width="0.9" fill="none"/><rect x="539.42" y="353.87" width="6.6" height="3.13" fill="url(#hatchP)" stroke="#c94a66" stroke-width="0.9"/><path d="M542.62,353.42 V354.31 M541.02,353.42 H544.22" stroke="#c94a66" stroke-width="0.9" fill="none"/><line x1="539.22" y1="357.0" x2="539.22" y2="360.0" stroke="#333" stroke-width="1"/><text transform="translate(544.82,364.6) rotate(-45)" font-size="9.3" text-anchor="end" fill="#111">Silicon</text><rect x="547.24" y="280.33" width="6.7" height="76.67" fill="url(#hatchB)" stroke="#28529c" stroke-width="1"/><path d="M550.64,278.54 V282.12 M548.84,278.54 H552.44 M548.84,282.12 H552.44" stroke="#2a5aa8" stroke-width="0.9" fill="none"/><rect x="554.24" y="354.31" width="6.6" height="2.69" fill="url(#hatchP)" stroke="#c94a66" stroke-width="0.9"/><path d="M557.44,353.87 V354.76 M555.84,353.87 H559.04" stroke="#c94a66" stroke-width="0.9" fill="none"/><line x1="554.04" y1="357.0" x2="554.04" y2="360.0" stroke="#333" stroke-width="1"/><text transform="translate(559.64,364.6) rotate(-45)" font-size="9.3" text-anchor="end" fill="#111">Glass</text><rect x="562.06" y="329.50" width="6.7" height="27.50" fill="url(#hatchB)" stroke="#28529c" stroke-width="1"/><path d="M565.46,325.02 V333.98 M563.66,325.02 H567.26 M563.66,333.98 H567.26" stroke="#2a5aa8" stroke-width="0.9" fill="none"/><rect x="569.06" y="352.52" width="6.6" height="4.48" fill="url(#hatchP)" stroke="#c94a66" stroke-width="0.9"/><path d="M572.26,351.80 V353.24 M570.66,351.80 H573.86" stroke="#c94a66" stroke-width="0.9" fill="none"/><line x1="568.86" y1="357.0" x2="568.86" y2="360.0" stroke="#333" stroke-width="1"/><text transform="translate(574.46,364.6) rotate(-45)" font-size="9.3" text-anchor="end" fill="#111">PMMA</text><rect x="576.88" y="331.92" width="6.7" height="25.08" fill="url(#hatchB)" stroke="#28529c" stroke-width="1"/><path d="M580.28,331.20 V332.64 M578.48,331.20 H582.08 M578.48,332.64 H582.08" stroke="#2a5aa8" stroke-width="0.9" fill="none"/><rect x="583.88" y="352.07" width="6.6" height="4.93" fill="url(#hatchP)" stroke="#c94a66" stroke-width="0.9"/><path d="M587.08,351.36 V352.79 M585.48,351.36 H588.68" stroke="#c94a66" stroke-width="0.9" fill="none"/><line x1="583.68" y1="357.0" x2="583.68" y2="360.0" stroke="#333" stroke-width="1"/><text transform="translate(589.28,364.6) rotate(-45)" font-size="9.3" text-anchor="end" fill="#111">PET</text><rect x="591.70" y="325.20" width="6.7" height="31.80" fill="url(#hatchB)" stroke="#28529c" stroke-width="1"/><path d="M595.10,321.62 V328.78 M593.30,321.62 H596.90 M593.30,328.78 H596.90" stroke="#2a5aa8" stroke-width="0.9" fill="none"/><rect x="598.70" y="352.52" width="6.6" height="4.48" fill="url(#hatchP)" stroke="#c94a66" stroke-width="0.9"/><path d="M601.90,349.83 V355.21 M600.30,349.83 H603.50" stroke="#c94a66" stroke-width="0.9" fill="none"/><line x1="598.50" y1="357.0" x2="598.50" y2="360.0" stroke="#333" stroke-width="1"/><text transform="translate(604.10,364.6) rotate(-45)" font-size="9.3" text-anchor="end" fill="#111">EVA</text><rect x="606.52" y="332.19" width="6.7" height="24.81" fill="url(#hatchB)" stroke="#28529c" stroke-width="1"/><path d="M609.92,327.71 V336.67 M608.12,327.71 H611.72 M608.12,336.67 H611.72" stroke="#2a5aa8" stroke-width="0.9" fill="none"/><rect x="613.52" y="352.07" width="6.6" height="4.93" fill="url(#hatchP)" stroke="#c94a66" stroke-width="0.9"/><path d="M616.72,351.54 V352.61 M615.12,351.54 H618.32" stroke="#c94a66" stroke-width="0.9" fill="none"/><line x1="613.32" y1="357.0" x2="613.32" y2="360.0" stroke="#333" stroke-width="1"/><text transform="translate(618.92,364.6) rotate(-45)" font-size="9.3" text-anchor="end" fill="#111">PU</text><rect x="441.3" y="231.6" width="181.59999999999997" height="125.4" fill="none" stroke="#333" stroke-width="1.1"/><rect x="444.6" y="233.8" width="12.8" height="9.8" fill="url(#hatchB)" stroke="#2a5aa8" stroke-width="0.9"/><rect x="444.6" y="245" width="12.8" height="9.8" fill="url(#hatchP)" stroke="#c94a66" stroke-width="0.9"/><text x="461.5" y="242.2" font-size="9.2" text-anchor="start" font-weight="normal" fill="#000" stroke="#000" stroke-width="0.3" >Bare Substrate</text><text x="461.5" y="252.7" font-size="9.2" text-anchor="start" font-weight="normal" fill="#000" stroke="#000" stroke-width="0.3" >Hydrogel Coating</text></g><g id="panelE"><text x="4.4" y="408.6" font-size="16" text-anchor="start" font-weight="normal" fill="#000" stroke="#000" stroke-width="0.3" >e</text><rect x="49.20" y="416.2" width="20.79" height="143.8" fill="#ecf5fd"/><rect x="69.99" y="416.2" width="20.79" height="143.8" fill="#fdf7f7"/><rect x="90.78" y="416.2" width="20.79" height="143.8" fill="#ecf5fd"/><rect x="111.57" y="416.2" width="20.79" height="143.8" fill="#fdf7f7"/><rect x="132.36" y="416.2" width="20.79" height="143.8" fill="#ecf5fd"/><rect x="153.15" y="416.2" width="20.79" height="143.8" fill="#fdf7f7"/><rect x="173.94" y="416.2" width="20.79" height="143.8" fill="#ecf5fd"/><rect x="194.73" y="416.2" width="20.79" height="143.8" fill="#fdf7f7"/><rect x="215.52" y="416.2" width="20.79" height="143.8" fill="#ecf5fd"/><rect x="236.31" y="416.2" width="20.79" height="143.8" fill="#fdf7f7"/><line x1="47.400000000000006" y1="560.74" x2="49.2" y2="560.74" stroke="#333" stroke-width="1"/><line x1="46.0" y1="547.60" x2="49.2" y2="547.60" stroke="#333" stroke-width="1"/><text x="43.8" y="551.5" font-size="13" text-anchor="end" font-weight="normal" fill="#000" stroke="#000" stroke-width="0.3" >0.0</text><line x1="47.400000000000006" y1="534.46" x2="49.2" y2="534.46" stroke="#333" stroke-width="1"/><line x1="46.0" y1="521.32" x2="49.2" y2="521.32" stroke="#333" stroke-width="1"/><text x="43.8" y="525.22" font-size="13" text-anchor="end" font-weight="normal" fill="#000" stroke="#000" stroke-width="0.3" >0.2</text><line x1="47.400000000000006" y1="508.18" x2="49.2" y2="508.18" stroke="#333" stroke-width="1"/><line x1="46.0" y1="495.04" x2="49.2" y2="495.04" stroke="#333" stroke-width="1"/><text x="43.8" y="498.94" font-size="13" text-anchor="end" font-weight="normal" fill="#000" stroke="#000" stroke-width="0.3" >0.4</text><line x1="47.400000000000006" y1="481.90" x2="49.2" y2="481.90" stroke="#333" stroke-width="1"/><line x1="46.0" y1="468.76" x2="49.2" y2="468.76" stroke="#333" stroke-width="1"/><text x="43.8" y="472.65999999999997" font-size="13" text-anchor="end" font-weight="normal" fill="#000" stroke="#000" stroke-width="0.3" >0.6</text><line x1="47.400000000000006" y1="455.62" x2="49.2" y2="455.62" stroke="#333" stroke-width="1"/><line x1="46.0" y1="442.48" x2="49.2" y2="442.48" stroke="#333" stroke-width="1"/><text x="43.8" y="446.38" font-size="13" text-anchor="end" font-weight="normal" fill="#000" stroke="#000" stroke-width="0.3" >0.8</text><line x1="47.400000000000006" y1="429.34" x2="49.2" y2="429.34" stroke="#333" stroke-width="1"/><line x1="46.0" y1="416.20" x2="49.2" y2="416.20" stroke="#333" stroke-width="1"/><text x="43.8" y="420.1" font-size="13" text-anchor="end" font-weight="normal" fill="#000" stroke="#000" stroke-width="0.3" >1.0</text><line x1="49.20" y1="560.0" x2="49.20" y2="563.5" stroke="#333" stroke-width="1"/><text x="49.2" y="576.6" font-size="13" text-anchor="middle" font-weight="normal" fill="#000" stroke="#000" stroke-width="0.3" >0</text><line x1="66.53" y1="560.0" x2="66.53" y2="562.0" stroke="#333" stroke-width="1"/><line x1="83.85" y1="560.0" x2="83.85" y2="563.5" stroke="#333" stroke-width="1"/><text x="83.85000000000001" y="576.6" font-size="13" text-anchor="middle" font-weight="normal" fill="#000" stroke="#000" stroke-width="0.3" >1k</text><line x1="101.18" y1="560.0" x2="101.18" y2="562.0" stroke="#333" stroke-width="1"/><line x1="118.50" y1="560.0" x2="118.50" y2="563.5" stroke="#333" stroke-width="1"/><text x="118.50000000000001" y="576.6" font-size="13" text-anchor="middle" font-weight="normal" fill="#000" stroke="#000" stroke-width="0.3" >2k</text><line x1="135.83" y1="560.0" x2="135.83" y2="562.0" stroke="#333" stroke-width="1"/><line x1="153.15" y1="560.0" x2="153.15" y2="563.5" stroke="#333" stroke-width="1"/><text x="153.15" y="576.6" font-size="13" text-anchor="middle" font-weight="normal" fill="#000" stroke="#000" stroke-width="0.3" >3k</text><line x1="170.48" y1="560.0" x2="170.48" y2="562.0" stroke="#333" stroke-width="1"/><line x1="187.80" y1="560.0" x2="187.80" y2="563.5" stroke="#333" stroke-width="1"/><text x="187.8" y="576.6" font-size="13" text-anchor="middle" font-weight="normal" fill="#000" stroke="#000" stroke-width="0.3" >4k</text><line x1="205.13" y1="560.0" x2="205.13" y2="562.0" stroke="#333" stroke-width="1"/><line x1="222.45" y1="560.0" x2="222.45" y2="563.5" stroke="#333" stroke-width="1"/><text x="222.45000000000005" y="576.6" font-size="13" text-anchor="middle" font-weight="normal" fill="#000" stroke="#000" stroke-width="0.3" >5k</text><line x1="239.78" y1="560.0" x2="239.78" y2="562.0" stroke="#333" stroke-width="1"/><line x1="257.10" y1="560.0" x2="257.10" y2="563.5" stroke="#333" stroke-width="1"/><text x="257.1" y="576.6" font-size="13" text-anchor="middle" font-weight="normal" fill="#000" stroke="#000" stroke-width="0.3" >6k</text><text transform="translate(20,488.8) rotate(-90)" font-size="15" text-anchor="middle" fill="#000" stroke="#000" stroke-width="0.3">CoF</text><text x="153.4" y="595.6" font-size="15" text-anchor="middle" font-weight="normal" fill="#000" stroke="#000" stroke-width="0.3" >Cycle</text><path d="M69.99,502.92 L69.99,423.43 L70.09,463.50 L70.16,465.48 L70.51,463.88 L71.20,462.00 L71.90,459.81 L72.59,457.51 L73.28,453.96 L73.97,449.98 L74.67,446.48 L75.36,443.44 L76.05,440.87 L76.75,439.66 L77.44,438.37 L78.13,436.60 L78.83,436.66 L79.52,435.49 L80.21,436.05 L80.90,436.71 L81.60,433.32 L82.29,433.35 L82.98,434.10 L83.68,434.74 L84.37,436.62 L85.06,437.04 L85.76,436.78 L86.45,437.83 L87.14,434.56 L87.83,436.31 L88.53,434.21 L89.22,436.41 L89.91,433.72 L90.78,438.80" fill="none" stroke="#b8334f" stroke-width="1.2" stroke-linejoin="round"/><path d="M111.57,471.78 L111.67,443.79 L111.92,438.54 L112.26,443.35 L113.03,441.52 L113.79,435.85 L114.55,437.31 L115.31,433.76 L116.07,437.08 L116.84,440.77 L117.60,437.64 L118.36,435.33 L119.12,438.50 L119.89,441.02 L120.65,439.93 L121.41,434.54 L122.17,434.25 L122.94,439.16 L123.70,439.83 L124.46,441.18 L125.22,441.94 L125.98,436.36 L126.75,439.26 L127.51,437.23 L128.27,437.37 L129.03,439.41 L129.80,435.83 L130.56,439.28 L131.32,436.41 L132.08,439.53" fill="none" stroke="#b8334f" stroke-width="1.2" stroke-linejoin="round"/><path d="M153.15,451.68 L153.50,448.54 L154.26,447.86 L155.02,445.64 L155.78,438.84 L156.55,436.84 L157.31,438.88 L158.07,434.38 L158.83,437.77 L159.59,437.81 L160.36,434.46 L161.12,434.87 L161.88,439.02 L162.64,433.96 L163.41,437.91 L164.17,438.99 L164.93,435.60 L165.69,437.70 L166.46,438.70 L167.22,440.71 L167.98,441.31 L168.74,437.91 L169.50,439.25 L170.27,437.10 L171.03,438.06 L171.79,437.81 L172.55,434.02 L173.32,436.22" fill="none" stroke="#b8334f" stroke-width="1.2" stroke-linejoin="round"/><path d="M194.73,440.62 L195.49,438.30 L196.25,442.54 L197.02,444.25 L197.78,439.31 L198.54,438.26 L199.30,442.10 L200.07,443.89 L200.83,440.49 L201.59,437.84 L202.35,442.40 L203.12,438.47 L203.88,437.61 L204.64,439.37 L205.40,441.34 L206.16,444.39 L206.93,445.95 L207.69,439.71 L208.45,442.87 L209.21,440.56 L209.98,443.06 L210.74,439.79 L211.50,440.33 L212.26,442.76 L213.03,444.50 L213.79,441.11 L214.55,444.74 L215.31,444.84" fill="none" stroke="#b8334f" stroke-width="1.2" stroke-linejoin="round"/><path d="M236.31,451.68 L236.66,446.22 L237.42,441.43 L238.18,440.48 L238.94,443.10 L239.71,438.76 L240.47,442.62 L241.23,445.21 L241.99,443.89 L242.75,441.79 L243.52,443.86 L244.28,443.43 L245.04,441.52 L245.80,439.01 L246.57,441.37 L247.33,440.14 L248.09,435.30 L248.85,432.66 L249.62,434.05 L250.38,434.02 L251.14,434.62 L251.90,438.09 L252.66,439.89 L253.43,440.42 L254.19,433.33 L254.95,432.26 L255.71,429.58 L256.48,435.83" fill="none" stroke="#b8334f" stroke-width="1.2" stroke-linejoin="round"/><path d="M49.20,543.79 L59.60,544.32 L69.99,544.97" fill="none" stroke="#1f4a94" stroke-width="1.3" stroke-linejoin="round"/><path d="M90.78,543.13 L91.47,544.97 L94.25,544.71 L101.18,545.10 L111.57,545.37" fill="none" stroke="#1f4a94" stroke-width="1.3" stroke-linejoin="round"/><path d="M132.36,542.08 L133.40,544.71 L139.29,544.84 L153.15,544.97" fill="none" stroke="#1f4a94" stroke-width="1.3" stroke-linejoin="round"/><path d="M173.94,540.24 L174.98,546.02 L177.41,546.29 L182.60,545.63 L194.73,544.97" fill="none" stroke="#1f4a94" stroke-width="1.3" stroke-linejoin="round"/><path d="M215.52,544.97 L216.21,545.89 L225.92,545.63 L236.31,545.50" fill="none" stroke="#1f4a94" stroke-width="1.3" stroke-linejoin="round"/><rect x="49.2" y="416.2" width="207.90000000000003" height="143.8" fill="none" stroke="#333" stroke-width="1.2"/><text x="123" y="463.3" font-size="11.4" text-anchor="start" font-weight="normal" fill="#b83a58" stroke="#b83a58" stroke-width="0.15" >Degradation</text><text x="124" y="535.4" font-size="11.4" text-anchor="start" font-weight="normal" fill="#1d428e" stroke="#1d428e" stroke-width="0.15" >Coating-CB</text></g><g id="panelF"><text x="279.6" y="407.8" font-size="15" text-anchor="start" font-weight="normal" fill="#000" stroke="#000" stroke-width="0.3" >f</text><line x1="319.8" y1="554.20" x2="321.6" y2="554.20" stroke="#333" stroke-width="1"/><line x1="318.40000000000003" y1="538.80" x2="321.6" y2="538.80" stroke="#333" stroke-width="1"/><text x="316.5" y="543.4" font-size="13" text-anchor="end" font-weight="normal" fill="#000" stroke="#000" stroke-width="0.3" >0.0</text><line x1="319.8" y1="523.39" x2="321.6" y2="523.39" stroke="#333" stroke-width="1"/><line x1="318.40000000000003" y1="507.99" x2="321.6" y2="507.99" stroke="#333" stroke-width="1"/><text x="316.5" y="512.5899999999999" font-size="13" text-anchor="end" font-weight="normal" fill="#000" stroke="#000" stroke-width="0.3" >0.3</text><line x1="319.8" y1="492.58" x2="321.6" y2="492.58" stroke="#333" stroke-width="1"/><line x1="318.40000000000003" y1="477.18" x2="321.6" y2="477.18" stroke="#333" stroke-width="1"/><text x="316.5" y="481.78" font-size="13" text-anchor="end" font-weight="normal" fill="#000" stroke="#000" stroke-width="0.3" >0.6</text><line x1="319.8" y1="461.77" x2="321.6" y2="461.77" stroke="#333" stroke-width="1"/><line x1="318.40000000000003" y1="446.37" x2="321.6" y2="446.37" stroke="#333" stroke-width="1"/><text x="316.5" y="450.96999999999997" font-size="13" text-anchor="end" font-weight="normal" fill="#000" stroke="#000" stroke-width="0.3" >0.9</text><line x1="319.8" y1="430.96" x2="321.6" y2="430.96" stroke="#333" stroke-width="1"/><line x1="318.40000000000003" y1="415.56" x2="321.6" y2="415.56" stroke="#333" stroke-width="1"/><text x="316.5" y="420.15999999999997" font-size="13" text-anchor="end" font-weight="normal" fill="#000" stroke="#000" stroke-width="0.3" >1.2</text><line x1="321.40" y1="561.0" x2="321.40" y2="564.5" stroke="#333" stroke-width="1"/><text x="321.4" y="576.6" font-size="13" text-anchor="middle" font-weight="normal" fill="#000" stroke="#000" stroke-width="0.3" >0</text><line x1="351.25" y1="561.0" x2="351.25" y2="563.0" stroke="#333" stroke-width="1"/><line x1="381.10" y1="561.0" x2="381.10" y2="564.5" stroke="#333" stroke-width="1"/><text x="381.09999999999997" y="576.6" font-size="13" text-anchor="middle" font-weight="normal" fill="#000" stroke="#000" stroke-width="0.3" >20</text><line x1="410.95" y1="561.0" x2="410.95" y2="563.0" stroke="#333" stroke-width="1"/><line x1="440.80" y1="561.0" x2="440.80" y2="564.5" stroke="#333" stroke-width="1"/><text x="440.79999999999995" y="576.6" font-size="13" text-anchor="middle" font-weight="normal" fill="#000" stroke="#000" stroke-width="0.3" >40</text><line x1="470.65" y1="561.0" x2="470.65" y2="563.0" stroke="#333" stroke-width="1"/><line x1="500.50" y1="561.0" x2="500.50" y2="564.5" stroke="#333" stroke-width="1"/><text x="500.5" y="576.6" font-size="13" text-anchor="middle" font-weight="normal" fill="#000" stroke="#000" stroke-width="0.3" >60</text><line x1="530.35" y1="561.0" x2="530.35" y2="563.0" stroke="#333" stroke-width="1"/><line x1="560.20" y1="561.0" x2="560.20" y2="564.5" stroke="#333" stroke-width="1"/><text x="560.1999999999999" y="576.6" font-size="13" text-anchor="middle" font-weight="normal" fill="#000" stroke="#000" stroke-width="0.3" >80</text><line x1="590.05" y1="561.0" x2="590.05" y2="563.0" stroke="#333" stroke-width="1"/><line x1="619.90" y1="561.0" x2="619.90" y2="564.5" stroke="#333" stroke-width="1"/><text x="619.9" y="576.6" font-size="13" text-anchor="middle" font-weight="normal" fill="#000" stroke="#000" stroke-width="0.3" >100</text><text transform="translate(291.9,488.3) rotate(-90)" font-size="15" text-anchor="middle" fill="#000" stroke="#000" stroke-width="0.3">CoF</text><text x="471.9" y="592.7" font-size="15" text-anchor="middle" font-weight="normal" fill="#000" stroke="#000" stroke-width="0.3" >Number of treatments</text><polyline points="324.38,537.96 327.37,456.70 330.35,538.16 333.34,452.60 336.32,538.25 339.31,454.30 342.29,538.50 345.28,456.20 348.26,538.16 351.25,454.80 354.23,538.47 357.22,453.10 360.20,536.95 363.19,459.00 366.17,537.69 369.16,456.70 372.14,538.50 375.13,459.00 378.11,538.00 381.10,458.60 384.08,538.43 387.07,457.90 390.05,537.09 393.04,459.50 396.02,537.70 399.01,461.00 402.00,537.32 404.98,461.00 407.96,537.82 410.95,461.90 413.93,537.88 416.92,461.40 419.90,536.92 422.89,461.90 425.88,537.27 428.86,461.40 431.84,537.38 434.83,461.40 437.81,538.46 440.80,461.00 443.78,538.20 446.77,461.90 449.75,537.17 452.74,465.00 455.72,538.26 458.71,462.90 461.69,537.14 464.68,462.90 467.66,537.95 470.65,462.10 473.63,537.12 476.62,462.10 479.60,536.90 482.59,459.70 485.57,538.38 488.56,458.90 491.54,537.26 494.53,462.10 497.51,537.27 500.50,463.70 503.48,538.57 506.47,463.50 509.45,538.38 512.44,467.80 515.42,537.39 518.41,461.00 521.39,538.53 524.38,466.40 527.37,537.82 530.35,471.00 533.34,538.05 536.32,470.20 539.30,537.25 542.29,464.80 545.27,538.50 548.26,466.40 551.25,538.07 554.23,469.70 557.21,538.54 560.20,470.20 563.18,538.42 566.17,472.40 569.15,537.41 572.14,471.60 575.12,537.51 578.11,472.90 581.10,537.18 584.08,472.40 587.06,537.15 590.05,473.20 593.03,537.01 596.02,474.00 599.00,537.41 601.99,474.50 604.97,537.93 607.96,474.30 610.94,536.91 613.93,475.10 616.91,538.05 619.90,474.50" fill="none" stroke="#727272" stroke-width="1.05"/><circle cx="324.38" cy="537.96" r="2.3" fill="url(#blueDot)"/><circle cx="327.37" cy="456.70" r="2.6" fill="url(#redDot)"/><circle cx="330.35" cy="538.16" r="2.3" fill="url(#blueDot)"/><circle cx="333.34" cy="452.60" r="2.6" fill="url(#redDot)"/><circle cx="336.32" cy="538.25" r="2.3" fill="url(#blueDot)"/><circle cx="339.31" cy="454.30" r="2.6" fill="url(#redDot)"/><circle cx="342.29" cy="538.50" r="2.3" fill="url(#blueDot)"/><circle cx="345.28" cy="456.20" r="2.6" fill="url(#redDot)"/><circle cx="348.26" cy="538.16" r="2.3" fill="url(#blueDot)"/><circle cx="351.25" cy="454.80" r="2.6" fill="url(#redDot)"/><circle cx="354.23" cy="538.47" r="2.3" fill="url(#blueDot)"/><circle cx="357.22" cy="453.10" r="2.6" fill="url(#redDot)"/><circle cx="360.20" cy="536.95" r="2.3" fill="url(#blueDot)"/><circle cx="363.19" cy="459.00" r="2.6" fill="url(#redDot)"/><circle cx="366.17" cy="537.69" r="2.3" fill="url(#blueDot)"/><circle cx="369.16" cy="456.70" r="2.6" fill="url(#redDot)"/><circle cx="372.14" cy="538.50" r="2.3" fill="url(#blueDot)"/><circle cx="375.13" cy="459.00" r="2.6" fill="url(#redDot)"/><circle cx="378.11" cy="538.00" r="2.3" fill="url(#blueDot)"/><circle cx="381.10" cy="458.60" r="2.6" fill="url(#redDot)"/><circle cx="384.08" cy="538.43" r="2.3" fill="url(#blueDot)"/><circle cx="387.07" cy="457.90" r="2.6" fill="url(#redDot)"/><circle cx="390.05" cy="537.09" r="2.3" fill="url(#blueDot)"/><circle cx="393.04" cy="459.50" r="2.6" fill="url(#redDot)"/><circle cx="396.02" cy="537.70" r="2.3" fill="url(#blueDot)"/><circle cx="399.01" cy="461.00" r="2.6" fill="url(#redDot)"/><circle cx="402.00" cy="537.32" r="2.3" fill="url(#blueDot)"/><circle cx="404.98" cy="461.00" r="2.6" fill="url(#redDot)"/><circle cx="407.96" cy="537.82" r="2.3" fill="url(#blueDot)"/><circle cx="410.95" cy="461.90" r="2.6" fill="url(#redDot)"/><circle cx="413.93" cy="537.88" r="2.3" fill="url(#blueDot)"/><circle cx="416.92" cy="461.40" r="2.6" fill="url(#redDot)"/><circle cx="419.90" cy="536.92" r="2.3" fill="url(#blueDot)"/><circle cx="422.89" cy="461.90" r="2.6" fill="url(#redDot)"/><circle cx="425.88" cy="537.27" r="2.3" fill="url(#blueDot)"/><circle cx="428.86" cy="461.40" r="2.6" fill="url(#redDot)"/><circle cx="431.84" cy="537.38" r="2.3" fill="url(#blueDot)"/><circle cx="434.83" cy="461.40" r="2.6" fill="url(#redDot)"/><circle cx="437.81" cy="538.46" r="2.3" fill="url(#blueDot)"/><circle cx="440.80" cy="461.00" r="2.6" fill="url(#redDot)"/><circle cx="443.78" cy="538.20" r="2.3" fill="url(#blueDot)"/><circle cx="446.77" cy="461.90" r="2.6" fill="url(#redDot)"/><circle cx="449.75" cy="537.17" r="2.3" fill="url(#blueDot)"/><circle cx="452.74" cy="465.00" r="2.6" fill="url(#redDot)"/><circle cx="455.72" cy="538.26" r="2.3" fill="url(#blueDot)"/><circle cx="458.71" cy="462.90" r="2.6" fill="url(#redDot)"/><circle cx="461.69" cy="537.14" r="2.3" fill="url(#blueDot)"/><circle cx="464.68" cy="462.90" r="2.6" fill="url(#redDot)"/><circle cx="467.66" cy="537.95" r="2.3" fill="url(#blueDot)"/><circle cx="470.65" cy="462.10" r="2.6" fill="url(#redDot)"/><circle cx="473.63" cy="537.12" r="2.3" fill="url(#blueDot)"/><circle cx="476.62" cy="462.10" r="2.6" fill="url(#redDot)"/><circle cx="479.60" cy="536.90" r="2.3" fill="url(#blueDot)"/><circle cx="482.59" cy="459.70" r="2.6" fill="url(#redDot)"/><circle cx="485.57" cy="538.38" r="2.3" fill="url(#blueDot)"/><circle cx="488.56" cy="458.90" r="2.6" fill="url(#redDot)"/><circle cx="491.54" cy="537.26" r="2.3" fill="url(#blueDot)"/><circle cx="494.53" cy="462.10" r="2.6" fill="url(#redDot)"/><circle cx="497.51" cy="537.27" r="2.3" fill="url(#blueDot)"/><circle cx="500.50" cy="463.70" r="2.6" fill="url(#redDot)"/><circle cx="503.48" cy="538.57" r="2.3" fill="url(#blueDot)"/><circle cx="506.47" cy="463.50" r="2.6" fill="url(#redDot)"/><circle cx="509.45" cy="538.38" r="2.3" fill="url(#blueDot)"/><circle cx="512.44" cy="467.80" r="2.6" fill="url(#redDot)"/><circle cx="515.42" cy="537.39" r="2.3" fill="url(#blueDot)"/><circle cx="518.41" cy="461.00" r="2.6" fill="url(#redDot)"/><circle cx="521.39" cy="538.53" r="2.3" fill="url(#blueDot)"/><circle cx="524.38" cy="466.40" r="2.6" fill="url(#redDot)"/><circle cx="527.37" cy="537.82" r="2.3" fill="url(#blueDot)"/><circle cx="530.35" cy="471.00" r="2.6" fill="url(#redDot)"/><circle cx="533.34" cy="538.05" r="2.3" fill="url(#blueDot)"/><circle cx="536.32" cy="470.20" r="2.6" fill="url(#redDot)"/><circle cx="539.30" cy="537.25" r="2.3" fill="url(#blueDot)"/><circle cx="542.29" cy="464.80" r="2.6" fill="url(#redDot)"/><circle cx="545.27" cy="538.50" r="2.3" fill="url(#blueDot)"/><circle cx="548.26" cy="466.40" r="2.6" fill="url(#redDot)"/><circle cx="551.25" cy="538.07" r="2.3" fill="url(#blueDot)"/><circle cx="554.23" cy="469.70" r="2.6" fill="url(#redDot)"/><circle cx="557.21" cy="538.54" r="2.3" fill="url(#blueDot)"/><circle cx="560.20" cy="470.20" r="2.6" fill="url(#redDot)"/><circle cx="563.18" cy="538.42" r="2.3" fill="url(#blueDot)"/><circle cx="566.17" cy="472.40" r="2.6" fill="url(#redDot)"/><circle cx="569.15" cy="537.41" r="2.3" fill="url(#blueDot)"/><circle cx="572.14" cy="471.60" r="2.6" fill="url(#redDot)"/><circle cx="575.12" cy="537.51" r="2.3" fill="url(#blueDot)"/><circle cx="578.11" cy="472.90" r="2.6" fill="url(#redDot)"/><circle cx="581.10" cy="537.18" r="2.3" fill="url(#blueDot)"/><circle cx="584.08" cy="472.40" r="2.6" fill="url(#redDot)"/><circle cx="587.06" cy="537.15" r="2.3" fill="url(#blueDot)"/><circle cx="590.05" cy="473.20" r="2.6" fill="url(#redDot)"/><circle cx="593.03" cy="537.01" r="2.3" fill="url(#blueDot)"/><circle cx="596.02" cy="474.00" r="2.6" fill="url(#redDot)"/><circle cx="599.00" cy="537.41" r="2.3" fill="url(#blueDot)"/><circle cx="601.99" cy="474.50" r="2.6" fill="url(#redDot)"/><circle cx="604.97" cy="537.93" r="2.3" fill="url(#blueDot)"/><circle cx="607.96" cy="474.30" r="2.6" fill="url(#redDot)"/><circle cx="610.94" cy="536.91" r="2.3" fill="url(#blueDot)"/><circle cx="613.93" cy="475.10" r="2.6" fill="url(#redDot)"/><circle cx="616.91" cy="538.05" r="2.3" fill="url(#blueDot)"/><circle cx="619.90" cy="474.50" r="2.6" fill="url(#redDot)"/><rect x="321.6" y="415.6" width="301.4" height="145.39999999999998" fill="none" stroke="#333" stroke-width="1.2"/><text x="325.6" y="436.3" font-size="11.3" text-anchor="start" font-weight="normal" fill="#b83a58" stroke="#b83a58" stroke-width="0.12" >Degradation</text><text x="326" y="554.7" font-size="11.4" text-anchor="start" font-weight="normal" fill="#1d428e" stroke="#1d428e" stroke-width="0.15" >Coating-CB</text></g>
</svg>
</body></html>
